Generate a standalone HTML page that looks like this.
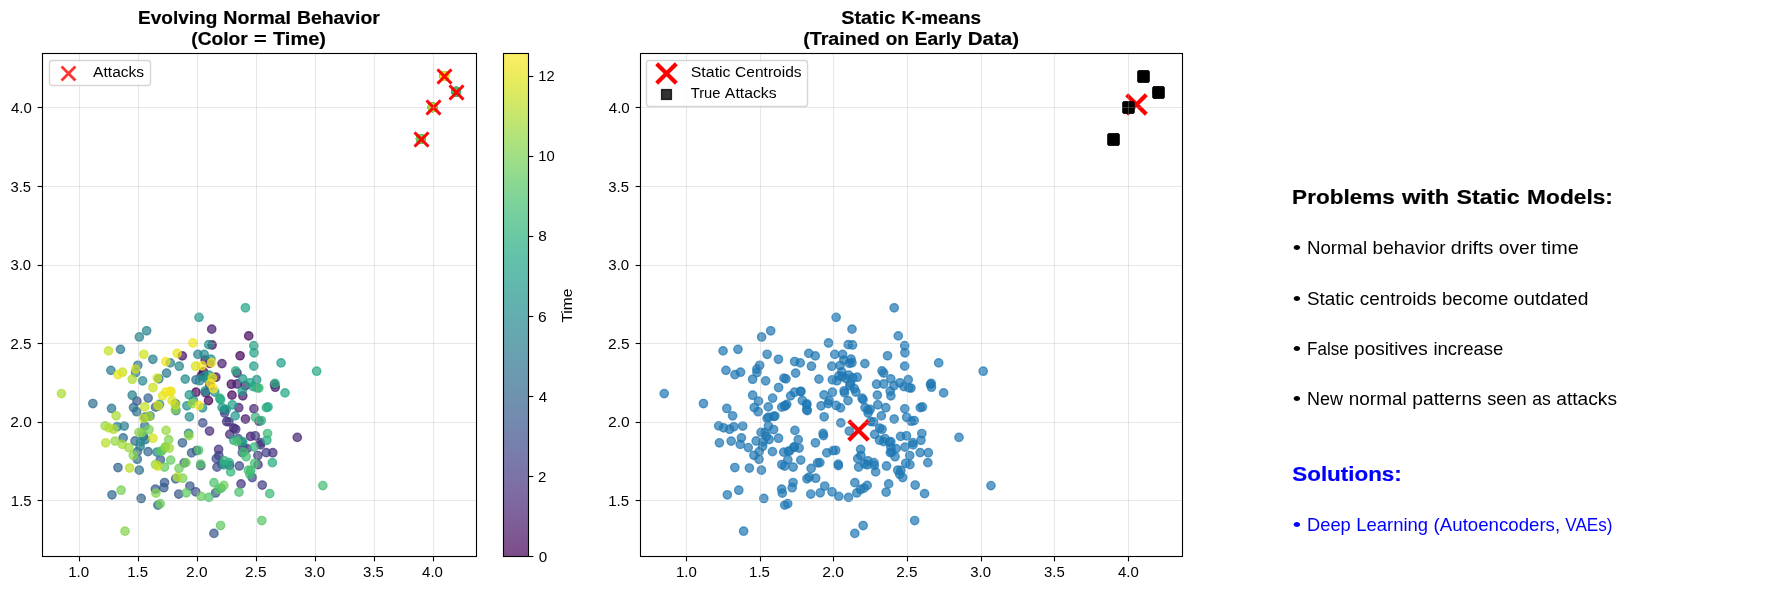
<!DOCTYPE html>
<html><head><meta charset="utf-8"><title>Evolving Normal Behavior vs Static K-means</title>
<style>html,body{margin:0;padding:0;background:#fff;width:1790px;height:590px;overflow:hidden}svg{display:block;font-family:"Liberation Sans",sans-serif;will-change:transform}</style>
</head><body>
<svg width="1790" height="590" viewBox="0 0 1790 590" font-family="Liberation Sans, sans-serif">
<rect x="0" y="0" width="1790" height="590" fill="#ffffff"/>
<circle cx="208.5" cy="400.61" r="4.17" fill="#440154" fill-opacity="0.7" stroke="#440154" stroke-opacity="0.7" stroke-width="1.39"/><circle cx="196.01" cy="392.2" r="4.17" fill="#440154" fill-opacity="0.7" stroke="#440154" stroke-opacity="0.7" stroke-width="1.39"/><circle cx="420.74" cy="138.86" r="4.17" fill="#440256" fill-opacity="0.7" stroke="#440256" stroke-opacity="0.7" stroke-width="1.39"/><circle cx="240.1" cy="355.75" r="4.17" fill="#450457" fill-opacity="0.7" stroke="#450457" stroke-opacity="0.7" stroke-width="1.39"/><circle cx="201.13" cy="375.88" r="4.17" fill="#450559" fill-opacity="0.7" stroke="#450559" stroke-opacity="0.7" stroke-width="1.39"/><circle cx="203.56" cy="371.9" r="4.17" fill="#46075a" fill-opacity="0.7" stroke="#46075a" stroke-opacity="0.7" stroke-width="1.39"/><circle cx="248.72" cy="335.89" r="4.17" fill="#46085c" fill-opacity="0.7" stroke="#46085c" stroke-opacity="0.7" stroke-width="1.39"/><circle cx="231.97" cy="395.17" r="4.17" fill="#46085c" fill-opacity="0.7" stroke="#46085c" stroke-opacity="0.7" stroke-width="1.39"/><circle cx="205.17" cy="360" r="4.17" fill="#460a5d" fill-opacity="0.7" stroke="#460a5d" stroke-opacity="0.7" stroke-width="1.39"/><circle cx="231.34" cy="384.24" r="4.17" fill="#460b5e" fill-opacity="0.7" stroke="#460b5e" stroke-opacity="0.7" stroke-width="1.39"/><circle cx="209.91" cy="385.5" r="4.17" fill="#470d60" fill-opacity="0.7" stroke="#470d60" stroke-opacity="0.7" stroke-width="1.39"/><circle cx="212.1" cy="344.97" r="4.17" fill="#470e61" fill-opacity="0.7" stroke="#470e61" stroke-opacity="0.7" stroke-width="1.39"/><circle cx="432.53" cy="107.43" r="4.17" fill="#471063" fill-opacity="0.7" stroke="#471063" stroke-opacity="0.7" stroke-width="1.39"/><circle cx="182.31" cy="355.85" r="4.17" fill="#471164" fill-opacity="0.7" stroke="#471164" stroke-opacity="0.7" stroke-width="1.39"/><circle cx="456.1" cy="91.72" r="4.17" fill="#471164" fill-opacity="0.7" stroke="#471164" stroke-opacity="0.7" stroke-width="1.39"/><circle cx="444.31" cy="76" r="4.17" fill="#471365" fill-opacity="0.7" stroke="#471365" stroke-opacity="0.7" stroke-width="1.39"/><circle cx="209.62" cy="363.38" r="4.17" fill="#481467" fill-opacity="0.7" stroke="#481467" stroke-opacity="0.7" stroke-width="1.39"/><circle cx="242.81" cy="395.83" r="4.17" fill="#481668" fill-opacity="0.7" stroke="#481668" stroke-opacity="0.7" stroke-width="1.39"/><circle cx="215.84" cy="377.22" r="4.17" fill="#481769" fill-opacity="0.7" stroke="#481769" stroke-opacity="0.7" stroke-width="1.39"/><circle cx="205.71" cy="392.89" r="4.17" fill="#48186a" fill-opacity="0.7" stroke="#48186a" stroke-opacity="0.7" stroke-width="1.39"/><circle cx="275.25" cy="387.2" r="4.17" fill="#481a6c" fill-opacity="0.7" stroke="#481a6c" stroke-opacity="0.7" stroke-width="1.39"/><circle cx="236.99" cy="373.05" r="4.17" fill="#481a6c" fill-opacity="0.7" stroke="#481a6c" stroke-opacity="0.7" stroke-width="1.39"/><circle cx="245.43" cy="419.02" r="4.17" fill="#481b6d" fill-opacity="0.7" stroke="#481b6d" stroke-opacity="0.7" stroke-width="1.39"/><circle cx="211.71" cy="329.16" r="4.17" fill="#481c6e" fill-opacity="0.7" stroke="#481c6e" stroke-opacity="0.7" stroke-width="1.39"/><circle cx="233.82" cy="428.18" r="4.17" fill="#481d6f" fill-opacity="0.7" stroke="#481d6f" stroke-opacity="0.7" stroke-width="1.39"/><circle cx="250.55" cy="436.42" r="4.17" fill="#481f70" fill-opacity="0.7" stroke="#481f70" stroke-opacity="0.7" stroke-width="1.39"/><circle cx="221.98" cy="363.61" r="4.17" fill="#482071" fill-opacity="0.7" stroke="#482071" stroke-opacity="0.7" stroke-width="1.39"/><circle cx="420.74" cy="138.86" r="4.17" fill="#482173" fill-opacity="0.7" stroke="#482173" stroke-opacity="0.7" stroke-width="1.39"/><circle cx="237.05" cy="383.98" r="4.17" fill="#482173" fill-opacity="0.7" stroke="#482173" stroke-opacity="0.7" stroke-width="1.39"/><circle cx="245.23" cy="385.69" r="4.17" fill="#482374" fill-opacity="0.7" stroke="#482374" stroke-opacity="0.7" stroke-width="1.39"/><circle cx="238.73" cy="407.7" r="4.17" fill="#482475" fill-opacity="0.7" stroke="#482475" stroke-opacity="0.7" stroke-width="1.39"/><circle cx="297.29" cy="437.41" r="4.17" fill="#482576" fill-opacity="0.7" stroke="#482576" stroke-opacity="0.7" stroke-width="1.39"/><circle cx="253.91" cy="408.75" r="4.17" fill="#482677" fill-opacity="0.7" stroke="#482677" stroke-opacity="0.7" stroke-width="1.39"/><circle cx="229.8" cy="434.36" r="4.17" fill="#482878" fill-opacity="0.7" stroke="#482878" stroke-opacity="0.7" stroke-width="1.39"/><circle cx="274.52" cy="384.38" r="4.17" fill="#482979" fill-opacity="0.7" stroke="#482979" stroke-opacity="0.7" stroke-width="1.39"/><circle cx="226.65" cy="421.62" r="4.17" fill="#482979" fill-opacity="0.7" stroke="#482979" stroke-opacity="0.7" stroke-width="1.39"/><circle cx="260.55" cy="444.91" r="4.17" fill="#472a7a" fill-opacity="0.7" stroke="#472a7a" stroke-opacity="0.7" stroke-width="1.39"/><circle cx="209.52" cy="431.05" r="4.17" fill="#472c7a" fill-opacity="0.7" stroke="#472c7a" stroke-opacity="0.7" stroke-width="1.39"/><circle cx="224.39" cy="409.95" r="4.17" fill="#472d7b" fill-opacity="0.7" stroke="#472d7b" stroke-opacity="0.7" stroke-width="1.39"/><circle cx="260.23" cy="442.63" r="4.17" fill="#472e7c" fill-opacity="0.7" stroke="#472e7c" stroke-opacity="0.7" stroke-width="1.39"/><circle cx="272.77" cy="452.72" r="4.17" fill="#472f7d" fill-opacity="0.7" stroke="#472f7d" stroke-opacity="0.7" stroke-width="1.39"/><circle cx="259.08" cy="421.19" r="4.17" fill="#46307e" fill-opacity="0.7" stroke="#46307e" stroke-opacity="0.7" stroke-width="1.39"/><circle cx="432.53" cy="107.43" r="4.17" fill="#46307e" fill-opacity="0.7" stroke="#46307e" stroke-opacity="0.7" stroke-width="1.39"/><circle cx="246.99" cy="448.67" r="4.17" fill="#46327e" fill-opacity="0.7" stroke="#46327e" stroke-opacity="0.7" stroke-width="1.39"/><circle cx="218.6" cy="449.45" r="4.17" fill="#46337f" fill-opacity="0.7" stroke="#46337f" stroke-opacity="0.7" stroke-width="1.39"/><circle cx="235.75" cy="429.25" r="4.17" fill="#463480" fill-opacity="0.7" stroke="#463480" stroke-opacity="0.7" stroke-width="1.39"/><circle cx="241.04" cy="483.92" r="4.17" fill="#453581" fill-opacity="0.7" stroke="#453581" stroke-opacity="0.7" stroke-width="1.39"/><circle cx="456.1" cy="91.72" r="4.17" fill="#453781" fill-opacity="0.7" stroke="#453781" stroke-opacity="0.7" stroke-width="1.39"/><circle cx="258.05" cy="464.63" r="4.17" fill="#453882" fill-opacity="0.7" stroke="#453882" stroke-opacity="0.7" stroke-width="1.39"/><circle cx="444.31" cy="76" r="4.17" fill="#453882" fill-opacity="0.7" stroke="#453882" stroke-opacity="0.7" stroke-width="1.39"/><circle cx="255.26" cy="435.78" r="4.17" fill="#443983" fill-opacity="0.7" stroke="#443983" stroke-opacity="0.7" stroke-width="1.39"/><circle cx="420.74" cy="138.86" r="4.17" fill="#443a83" fill-opacity="0.7" stroke="#443a83" stroke-opacity="0.7" stroke-width="1.39"/><circle cx="228.98" cy="421.92" r="4.17" fill="#443b84" fill-opacity="0.7" stroke="#443b84" stroke-opacity="0.7" stroke-width="1.39"/><circle cx="257.89" cy="455.5" r="4.17" fill="#433d84" fill-opacity="0.7" stroke="#433d84" stroke-opacity="0.7" stroke-width="1.39"/><circle cx="266.22" cy="452.61" r="4.17" fill="#433e85" fill-opacity="0.7" stroke="#433e85" stroke-opacity="0.7" stroke-width="1.39"/><circle cx="262.24" cy="485.01" r="4.17" fill="#423f85" fill-opacity="0.7" stroke="#423f85" stroke-opacity="0.7" stroke-width="1.39"/><circle cx="218.79" cy="455.52" r="4.17" fill="#423f85" fill-opacity="0.7" stroke="#423f85" stroke-opacity="0.7" stroke-width="1.39"/><circle cx="229.5" cy="465.38" r="4.17" fill="#424086" fill-opacity="0.7" stroke="#424086" stroke-opacity="0.7" stroke-width="1.39"/><circle cx="242.74" cy="447.48" r="4.17" fill="#424186" fill-opacity="0.7" stroke="#424186" stroke-opacity="0.7" stroke-width="1.39"/><circle cx="432.53" cy="107.43" r="4.17" fill="#414287" fill-opacity="0.7" stroke="#414287" stroke-opacity="0.7" stroke-width="1.39"/><circle cx="456.1" cy="91.72" r="4.17" fill="#414487" fill-opacity="0.7" stroke="#414487" stroke-opacity="0.7" stroke-width="1.39"/><circle cx="224.61" cy="413.01" r="4.17" fill="#404588" fill-opacity="0.7" stroke="#404588" stroke-opacity="0.7" stroke-width="1.39"/><circle cx="200.8" cy="465.64" r="4.17" fill="#404688" fill-opacity="0.7" stroke="#404688" stroke-opacity="0.7" stroke-width="1.39"/><circle cx="196.53" cy="450.58" r="4.17" fill="#404688" fill-opacity="0.7" stroke="#404688" stroke-opacity="0.7" stroke-width="1.39"/><circle cx="241.67" cy="442.41" r="4.17" fill="#3f4788" fill-opacity="0.7" stroke="#3f4788" stroke-opacity="0.7" stroke-width="1.39"/><circle cx="252.24" cy="477.54" r="4.17" fill="#3f4889" fill-opacity="0.7" stroke="#3f4889" stroke-opacity="0.7" stroke-width="1.39"/><circle cx="216.28" cy="458.64" r="4.17" fill="#3e4989" fill-opacity="0.7" stroke="#3e4989" stroke-opacity="0.7" stroke-width="1.39"/><circle cx="239.31" cy="465.96" r="4.17" fill="#3e4a89" fill-opacity="0.7" stroke="#3e4a89" stroke-opacity="0.7" stroke-width="1.39"/><circle cx="221.81" cy="463.88" r="4.17" fill="#3e4c8a" fill-opacity="0.7" stroke="#3e4c8a" stroke-opacity="0.7" stroke-width="1.39"/><circle cx="195.69" cy="491.76" r="4.17" fill="#3d4d8a" fill-opacity="0.7" stroke="#3d4d8a" stroke-opacity="0.7" stroke-width="1.39"/><circle cx="217" cy="467.13" r="4.17" fill="#3d4d8a" fill-opacity="0.7" stroke="#3d4d8a" stroke-opacity="0.7" stroke-width="1.39"/><circle cx="242.3" cy="452.6" r="4.17" fill="#3d4e8a" fill-opacity="0.7" stroke="#3d4e8a" stroke-opacity="0.7" stroke-width="1.39"/><circle cx="202.74" cy="422.91" r="4.17" fill="#3c4f8a" fill-opacity="0.7" stroke="#3c4f8a" stroke-opacity="0.7" stroke-width="1.39"/><circle cx="238.01" cy="438.56" r="4.17" fill="#3c508b" fill-opacity="0.7" stroke="#3c508b" stroke-opacity="0.7" stroke-width="1.39"/><circle cx="136.89" cy="401.14" r="4.17" fill="#3b518b" fill-opacity="0.7" stroke="#3b518b" stroke-opacity="0.7" stroke-width="1.39"/><circle cx="215.55" cy="492.95" r="4.17" fill="#3b528b" fill-opacity="0.7" stroke="#3b528b" stroke-opacity="0.7" stroke-width="1.39"/><circle cx="444.31" cy="76" r="4.17" fill="#3a538b" fill-opacity="0.7" stroke="#3a538b" stroke-opacity="0.7" stroke-width="1.39"/><circle cx="184.18" cy="462.86" r="4.17" fill="#3a538b" fill-opacity="0.7" stroke="#3a538b" stroke-opacity="0.7" stroke-width="1.39"/><circle cx="420.74" cy="138.86" r="4.17" fill="#3a548c" fill-opacity="0.7" stroke="#3a548c" stroke-opacity="0.7" stroke-width="1.39"/><circle cx="432.53" cy="107.43" r="4.17" fill="#39558c" fill-opacity="0.7" stroke="#39558c" stroke-opacity="0.7" stroke-width="1.39"/><circle cx="178.71" cy="494.08" r="4.17" fill="#39568c" fill-opacity="0.7" stroke="#39568c" stroke-opacity="0.7" stroke-width="1.39"/><circle cx="189.91" cy="486.05" r="4.17" fill="#38588c" fill-opacity="0.7" stroke="#38588c" stroke-opacity="0.7" stroke-width="1.39"/><circle cx="213.95" cy="533.41" r="4.17" fill="#38598c" fill-opacity="0.7" stroke="#38598c" stroke-opacity="0.7" stroke-width="1.39"/><circle cx="164.55" cy="482.55" r="4.17" fill="#375a8c" fill-opacity="0.7" stroke="#375a8c" stroke-opacity="0.7" stroke-width="1.39"/><circle cx="155.39" cy="489.17" r="4.17" fill="#375a8c" fill-opacity="0.7" stroke="#375a8c" stroke-opacity="0.7" stroke-width="1.39"/><circle cx="160.35" cy="459.8" r="4.17" fill="#375b8d" fill-opacity="0.7" stroke="#375b8d" stroke-opacity="0.7" stroke-width="1.39"/><circle cx="191.53" cy="452.92" r="4.17" fill="#365c8d" fill-opacity="0.7" stroke="#365c8d" stroke-opacity="0.7" stroke-width="1.39"/><circle cx="175.52" cy="403.76" r="4.17" fill="#365d8d" fill-opacity="0.7" stroke="#365d8d" stroke-opacity="0.7" stroke-width="1.39"/><circle cx="456.1" cy="91.72" r="4.17" fill="#355e8d" fill-opacity="0.7" stroke="#355e8d" stroke-opacity="0.7" stroke-width="1.39"/><circle cx="175.67" cy="478.76" r="4.17" fill="#355f8d" fill-opacity="0.7" stroke="#355f8d" stroke-opacity="0.7" stroke-width="1.39"/><circle cx="163.84" cy="487.71" r="4.17" fill="#34608d" fill-opacity="0.7" stroke="#34608d" stroke-opacity="0.7" stroke-width="1.39"/><circle cx="182.43" cy="442.8" r="4.17" fill="#34608d" fill-opacity="0.7" stroke="#34608d" stroke-opacity="0.7" stroke-width="1.39"/><circle cx="141.16" cy="498.47" r="4.17" fill="#34618d" fill-opacity="0.7" stroke="#34618d" stroke-opacity="0.7" stroke-width="1.39"/><circle cx="148.17" cy="398.08" r="4.17" fill="#33628d" fill-opacity="0.7" stroke="#33628d" stroke-opacity="0.7" stroke-width="1.39"/><circle cx="144.9" cy="417.16" r="4.17" fill="#33638d" fill-opacity="0.7" stroke="#33638d" stroke-opacity="0.7" stroke-width="1.39"/><circle cx="117.97" cy="467.51" r="4.17" fill="#32648e" fill-opacity="0.7" stroke="#32648e" stroke-opacity="0.7" stroke-width="1.39"/><circle cx="157.86" cy="505.09" r="4.17" fill="#32658e" fill-opacity="0.7" stroke="#32658e" stroke-opacity="0.7" stroke-width="1.39"/><circle cx="155.52" cy="407.13" r="4.17" fill="#31668e" fill-opacity="0.7" stroke="#31668e" stroke-opacity="0.7" stroke-width="1.39"/><circle cx="148.06" cy="451.66" r="4.17" fill="#31668e" fill-opacity="0.7" stroke="#31668e" stroke-opacity="0.7" stroke-width="1.39"/><circle cx="444.31" cy="76" r="4.17" fill="#31678e" fill-opacity="0.7" stroke="#31678e" stroke-opacity="0.7" stroke-width="1.39"/><circle cx="111.98" cy="494.8" r="4.17" fill="#31688e" fill-opacity="0.7" stroke="#31688e" stroke-opacity="0.7" stroke-width="1.39"/><circle cx="420.74" cy="138.86" r="4.17" fill="#30698e" fill-opacity="0.7" stroke="#30698e" stroke-opacity="0.7" stroke-width="1.39"/><circle cx="135.03" cy="440.99" r="4.17" fill="#306a8e" fill-opacity="0.7" stroke="#306a8e" stroke-opacity="0.7" stroke-width="1.39"/><circle cx="123.22" cy="437.86" r="4.17" fill="#2f6b8e" fill-opacity="0.7" stroke="#2f6b8e" stroke-opacity="0.7" stroke-width="1.39"/><circle cx="137.46" cy="451.62" r="4.17" fill="#2f6c8e" fill-opacity="0.7" stroke="#2f6c8e" stroke-opacity="0.7" stroke-width="1.39"/><circle cx="150" cy="416.03" r="4.17" fill="#2f6c8e" fill-opacity="0.7" stroke="#2f6c8e" stroke-opacity="0.7" stroke-width="1.39"/><circle cx="432.53" cy="107.43" r="4.17" fill="#2e6d8e" fill-opacity="0.7" stroke="#2e6d8e" stroke-opacity="0.7" stroke-width="1.39"/><circle cx="143.33" cy="436.24" r="4.17" fill="#2e6e8e" fill-opacity="0.7" stroke="#2e6e8e" stroke-opacity="0.7" stroke-width="1.39"/><circle cx="144.81" cy="426.04" r="4.17" fill="#2e6f8e" fill-opacity="0.7" stroke="#2e6f8e" stroke-opacity="0.7" stroke-width="1.39"/><circle cx="136.61" cy="411.7" r="4.17" fill="#2d708e" fill-opacity="0.7" stroke="#2d708e" stroke-opacity="0.7" stroke-width="1.39"/><circle cx="92.86" cy="403.53" r="4.17" fill="#2d718e" fill-opacity="0.7" stroke="#2d718e" stroke-opacity="0.7" stroke-width="1.39"/><circle cx="137.3" cy="459.26" r="4.17" fill="#2c718e" fill-opacity="0.7" stroke="#2c718e" stroke-opacity="0.7" stroke-width="1.39"/><circle cx="139.28" cy="470.15" r="4.17" fill="#2c718e" fill-opacity="0.7" stroke="#2c718e" stroke-opacity="0.7" stroke-width="1.39"/><circle cx="195.96" cy="379.81" r="4.17" fill="#2c728e" fill-opacity="0.7" stroke="#2c728e" stroke-opacity="0.7" stroke-width="1.39"/><circle cx="133.5" cy="407.54" r="4.17" fill="#2c738e" fill-opacity="0.7" stroke="#2c738e" stroke-opacity="0.7" stroke-width="1.39"/><circle cx="145.39" cy="439.53" r="4.17" fill="#2b748e" fill-opacity="0.7" stroke="#2b748e" stroke-opacity="0.7" stroke-width="1.39"/><circle cx="137.82" cy="365.3" r="4.17" fill="#2b758e" fill-opacity="0.7" stroke="#2b758e" stroke-opacity="0.7" stroke-width="1.39"/><circle cx="111.54" cy="408.47" r="4.17" fill="#2a768e" fill-opacity="0.7" stroke="#2a768e" stroke-opacity="0.7" stroke-width="1.39"/><circle cx="166.58" cy="373.11" r="4.17" fill="#2a778e" fill-opacity="0.7" stroke="#2a778e" stroke-opacity="0.7" stroke-width="1.39"/><circle cx="158.02" cy="406.14" r="4.17" fill="#2a778e" fill-opacity="0.7" stroke="#2a778e" stroke-opacity="0.7" stroke-width="1.39"/><circle cx="456.1" cy="91.72" r="4.17" fill="#2a788e" fill-opacity="0.7" stroke="#2a788e" stroke-opacity="0.7" stroke-width="1.39"/><circle cx="120.47" cy="349.35" r="4.17" fill="#29798e" fill-opacity="0.7" stroke="#29798e" stroke-opacity="0.7" stroke-width="1.39"/><circle cx="175.93" cy="410.51" r="4.17" fill="#297a8e" fill-opacity="0.7" stroke="#297a8e" stroke-opacity="0.7" stroke-width="1.39"/><circle cx="110.86" cy="370.36" r="4.17" fill="#297b8e" fill-opacity="0.7" stroke="#297b8e" stroke-opacity="0.7" stroke-width="1.39"/><circle cx="158.88" cy="378.85" r="4.17" fill="#287c8e" fill-opacity="0.7" stroke="#287c8e" stroke-opacity="0.7" stroke-width="1.39"/><circle cx="197.91" cy="354.4" r="4.17" fill="#287d8e" fill-opacity="0.7" stroke="#287d8e" stroke-opacity="0.7" stroke-width="1.39"/><circle cx="124.24" cy="426.06" r="4.17" fill="#287d8e" fill-opacity="0.7" stroke="#287d8e" stroke-opacity="0.7" stroke-width="1.39"/><circle cx="135.65" cy="372.55" r="4.17" fill="#277e8e" fill-opacity="0.7" stroke="#277e8e" stroke-opacity="0.7" stroke-width="1.39"/><circle cx="152.84" cy="359.26" r="4.17" fill="#277f8e" fill-opacity="0.7" stroke="#277f8e" stroke-opacity="0.7" stroke-width="1.39"/><circle cx="140.2" cy="446.26" r="4.17" fill="#27808e" fill-opacity="0.7" stroke="#27808e" stroke-opacity="0.7" stroke-width="1.39"/><circle cx="117.16" cy="426.7" r="4.17" fill="#26818e" fill-opacity="0.7" stroke="#26818e" stroke-opacity="0.7" stroke-width="1.39"/><circle cx="157.06" cy="452.18" r="4.17" fill="#26828e" fill-opacity="0.7" stroke="#26828e" stroke-opacity="0.7" stroke-width="1.39"/><circle cx="132.21" cy="395.21" r="4.17" fill="#26828e" fill-opacity="0.7" stroke="#26828e" stroke-opacity="0.7" stroke-width="1.39"/><circle cx="170.28" cy="362.89" r="4.17" fill="#26828e" fill-opacity="0.7" stroke="#26828e" stroke-opacity="0.7" stroke-width="1.39"/><circle cx="139.38" cy="336.99" r="4.17" fill="#25838e" fill-opacity="0.7" stroke="#25838e" stroke-opacity="0.7" stroke-width="1.39"/><circle cx="199.6" cy="380.71" r="4.17" fill="#25848e" fill-opacity="0.7" stroke="#25848e" stroke-opacity="0.7" stroke-width="1.39"/><circle cx="146.65" cy="330.76" r="4.17" fill="#25858e" fill-opacity="0.7" stroke="#25858e" stroke-opacity="0.7" stroke-width="1.39"/><circle cx="444.31" cy="76" r="4.17" fill="#24868e" fill-opacity="0.7" stroke="#24868e" stroke-opacity="0.7" stroke-width="1.39"/><circle cx="188.58" cy="433.48" r="4.17" fill="#24878e" fill-opacity="0.7" stroke="#24878e" stroke-opacity="0.7" stroke-width="1.39"/><circle cx="142.6" cy="380.82" r="4.17" fill="#23888e" fill-opacity="0.7" stroke="#23888e" stroke-opacity="0.7" stroke-width="1.39"/><circle cx="179.24" cy="366.19" r="4.17" fill="#23888e" fill-opacity="0.7" stroke="#23888e" stroke-opacity="0.7" stroke-width="1.39"/><circle cx="207" cy="378.56" r="4.17" fill="#23898e" fill-opacity="0.7" stroke="#23898e" stroke-opacity="0.7" stroke-width="1.39"/><circle cx="140.63" cy="441.85" r="4.17" fill="#238a8d" fill-opacity="0.7" stroke="#238a8d" stroke-opacity="0.7" stroke-width="1.39"/><circle cx="185.24" cy="379.1" r="4.17" fill="#228b8d" fill-opacity="0.7" stroke="#228b8d" stroke-opacity="0.7" stroke-width="1.39"/><circle cx="189.41" cy="416.8" r="4.17" fill="#228c8d" fill-opacity="0.7" stroke="#228c8d" stroke-opacity="0.7" stroke-width="1.39"/><circle cx="204.14" cy="354.35" r="4.17" fill="#228d8d" fill-opacity="0.7" stroke="#228d8d" stroke-opacity="0.7" stroke-width="1.39"/><circle cx="420.74" cy="138.86" r="4.17" fill="#218e8d" fill-opacity="0.7" stroke="#218e8d" stroke-opacity="0.7" stroke-width="1.39"/><circle cx="159.48" cy="404.35" r="4.17" fill="#218e8d" fill-opacity="0.7" stroke="#218e8d" stroke-opacity="0.7" stroke-width="1.39"/><circle cx="205.38" cy="390.8" r="4.17" fill="#218f8d" fill-opacity="0.7" stroke="#218f8d" stroke-opacity="0.7" stroke-width="1.39"/><circle cx="202.55" cy="407.85" r="4.17" fill="#21908d" fill-opacity="0.7" stroke="#21908d" stroke-opacity="0.7" stroke-width="1.39"/><circle cx="203.93" cy="376.53" r="4.17" fill="#21918c" fill-opacity="0.7" stroke="#21918c" stroke-opacity="0.7" stroke-width="1.39"/><circle cx="208.67" cy="344.63" r="4.17" fill="#20928c" fill-opacity="0.7" stroke="#20928c" stroke-opacity="0.7" stroke-width="1.39"/><circle cx="186.94" cy="405.79" r="4.17" fill="#20928c" fill-opacity="0.7" stroke="#20928c" stroke-opacity="0.7" stroke-width="1.39"/><circle cx="210.9" cy="359.22" r="4.17" fill="#20928c" fill-opacity="0.7" stroke="#20928c" stroke-opacity="0.7" stroke-width="1.39"/><circle cx="214.78" cy="392.06" r="4.17" fill="#20938c" fill-opacity="0.7" stroke="#20938c" stroke-opacity="0.7" stroke-width="1.39"/><circle cx="193.45" cy="400.72" r="4.17" fill="#1f948c" fill-opacity="0.7" stroke="#1f948c" stroke-opacity="0.7" stroke-width="1.39"/><circle cx="256.67" cy="379.67" r="4.17" fill="#1f958b" fill-opacity="0.7" stroke="#1f958b" stroke-opacity="0.7" stroke-width="1.39"/><circle cx="226.23" cy="409.41" r="4.17" fill="#1f968b" fill-opacity="0.7" stroke="#1f968b" stroke-opacity="0.7" stroke-width="1.39"/><circle cx="189.32" cy="394.93" r="4.17" fill="#1f978b" fill-opacity="0.7" stroke="#1f978b" stroke-opacity="0.7" stroke-width="1.39"/><circle cx="235.18" cy="415.91" r="4.17" fill="#1f988b" fill-opacity="0.7" stroke="#1f988b" stroke-opacity="0.7" stroke-width="1.39"/><circle cx="198.98" cy="317.33" r="4.17" fill="#1f988b" fill-opacity="0.7" stroke="#1f988b" stroke-opacity="0.7" stroke-width="1.39"/><circle cx="242.73" cy="378.85" r="4.17" fill="#1f998a" fill-opacity="0.7" stroke="#1f998a" stroke-opacity="0.7" stroke-width="1.39"/><circle cx="432.53" cy="107.43" r="4.17" fill="#1f9a8a" fill-opacity="0.7" stroke="#1f9a8a" stroke-opacity="0.7" stroke-width="1.39"/><circle cx="209.12" cy="375.22" r="4.17" fill="#1e9b8a" fill-opacity="0.7" stroke="#1e9b8a" stroke-opacity="0.7" stroke-width="1.39"/><circle cx="253.23" cy="386.57" r="4.17" fill="#1e9c89" fill-opacity="0.7" stroke="#1e9c89" stroke-opacity="0.7" stroke-width="1.39"/><circle cx="242.25" cy="391.15" r="4.17" fill="#1e9d89" fill-opacity="0.7" stroke="#1e9d89" stroke-opacity="0.7" stroke-width="1.39"/><circle cx="253.84" cy="366.14" r="4.17" fill="#1f9e89" fill-opacity="0.7" stroke="#1f9e89" stroke-opacity="0.7" stroke-width="1.39"/><circle cx="281.05" cy="362.93" r="4.17" fill="#1f9e89" fill-opacity="0.7" stroke="#1f9e89" stroke-opacity="0.7" stroke-width="1.39"/><circle cx="232.35" cy="404.77" r="4.17" fill="#1f9f88" fill-opacity="0.7" stroke="#1f9f88" stroke-opacity="0.7" stroke-width="1.39"/><circle cx="222.09" cy="407.61" r="4.17" fill="#1fa088" fill-opacity="0.7" stroke="#1fa088" stroke-opacity="0.7" stroke-width="1.39"/><circle cx="220.54" cy="399.64" r="4.17" fill="#1fa188" fill-opacity="0.7" stroke="#1fa188" stroke-opacity="0.7" stroke-width="1.39"/><circle cx="223.85" cy="464.86" r="4.17" fill="#1fa187" fill-opacity="0.7" stroke="#1fa187" stroke-opacity="0.7" stroke-width="1.39"/><circle cx="242.76" cy="441.72" r="4.17" fill="#1fa287" fill-opacity="0.7" stroke="#1fa287" stroke-opacity="0.7" stroke-width="1.39"/><circle cx="254.03" cy="352.78" r="4.17" fill="#20a386" fill-opacity="0.7" stroke="#20a386" stroke-opacity="0.7" stroke-width="1.39"/><circle cx="253.83" cy="345.72" r="4.17" fill="#20a386" fill-opacity="0.7" stroke="#20a386" stroke-opacity="0.7" stroke-width="1.39"/><circle cx="268.04" cy="406.96" r="4.17" fill="#20a486" fill-opacity="0.7" stroke="#20a486" stroke-opacity="0.7" stroke-width="1.39"/><circle cx="249.98" cy="382.77" r="4.17" fill="#21a585" fill-opacity="0.7" stroke="#21a585" stroke-opacity="0.7" stroke-width="1.39"/><circle cx="284.99" cy="392.9" r="4.17" fill="#21a685" fill-opacity="0.7" stroke="#21a685" stroke-opacity="0.7" stroke-width="1.39"/><circle cx="245.43" cy="307.76" r="4.17" fill="#22a785" fill-opacity="0.7" stroke="#22a785" stroke-opacity="0.7" stroke-width="1.39"/><circle cx="316.65" cy="371.19" r="4.17" fill="#22a884" fill-opacity="0.7" stroke="#22a884" stroke-opacity="0.7" stroke-width="1.39"/><circle cx="456.1" cy="91.72" r="4.17" fill="#23a983" fill-opacity="0.7" stroke="#23a983" stroke-opacity="0.7" stroke-width="1.39"/><circle cx="233.73" cy="440.2" r="4.17" fill="#23a983" fill-opacity="0.7" stroke="#23a983" stroke-opacity="0.7" stroke-width="1.39"/><circle cx="229.25" cy="462.59" r="4.17" fill="#24aa83" fill-opacity="0.7" stroke="#24aa83" stroke-opacity="0.7" stroke-width="1.39"/><circle cx="266.32" cy="407.66" r="4.17" fill="#25ab82" fill-opacity="0.7" stroke="#25ab82" stroke-opacity="0.7" stroke-width="1.39"/><circle cx="444.31" cy="76" r="4.17" fill="#25ac82" fill-opacity="0.7" stroke="#25ac82" stroke-opacity="0.7" stroke-width="1.39"/><circle cx="272.37" cy="462.68" r="4.17" fill="#26ad81" fill-opacity="0.7" stroke="#26ad81" stroke-opacity="0.7" stroke-width="1.39"/><circle cx="266.84" cy="440.28" r="4.17" fill="#27ad81" fill-opacity="0.7" stroke="#27ad81" stroke-opacity="0.7" stroke-width="1.39"/><circle cx="420.74" cy="138.86" r="4.17" fill="#28ae80" fill-opacity="0.7" stroke="#28ae80" stroke-opacity="0.7" stroke-width="1.39"/><circle cx="235.7" cy="370.9" r="4.17" fill="#28ae80" fill-opacity="0.7" stroke="#28ae80" stroke-opacity="0.7" stroke-width="1.39"/><circle cx="219.78" cy="398.19" r="4.17" fill="#29af7f" fill-opacity="0.7" stroke="#29af7f" stroke-opacity="0.7" stroke-width="1.39"/><circle cx="432.53" cy="107.43" r="4.17" fill="#2ab07f" fill-opacity="0.7" stroke="#2ab07f" stroke-opacity="0.7" stroke-width="1.39"/><circle cx="275.03" cy="383.32" r="4.17" fill="#2cb17e" fill-opacity="0.7" stroke="#2cb17e" stroke-opacity="0.7" stroke-width="1.39"/><circle cx="456.1" cy="91.72" r="4.17" fill="#2db27d" fill-opacity="0.7" stroke="#2db27d" stroke-opacity="0.7" stroke-width="1.39"/><circle cx="224.42" cy="460.76" r="4.17" fill="#2eb37c" fill-opacity="0.7" stroke="#2eb37c" stroke-opacity="0.7" stroke-width="1.39"/><circle cx="257.18" cy="387.73" r="4.17" fill="#2fb47c" fill-opacity="0.7" stroke="#2fb47c" stroke-opacity="0.7" stroke-width="1.39"/><circle cx="261.4" cy="420.54" r="4.17" fill="#2fb47c" fill-opacity="0.7" stroke="#2fb47c" stroke-opacity="0.7" stroke-width="1.39"/><circle cx="230.61" cy="471.93" r="4.17" fill="#31b57b" fill-opacity="0.7" stroke="#31b57b" stroke-opacity="0.7" stroke-width="1.39"/><circle cx="254.09" cy="447.13" r="4.17" fill="#32b67a" fill-opacity="0.7" stroke="#32b67a" stroke-opacity="0.7" stroke-width="1.39"/><circle cx="250.77" cy="470.46" r="4.17" fill="#34b679" fill-opacity="0.7" stroke="#34b679" stroke-opacity="0.7" stroke-width="1.39"/><circle cx="221.29" cy="488.15" r="4.17" fill="#35b779" fill-opacity="0.7" stroke="#35b779" stroke-opacity="0.7" stroke-width="1.39"/><circle cx="255.42" cy="417.29" r="4.17" fill="#37b878" fill-opacity="0.7" stroke="#37b878" stroke-opacity="0.7" stroke-width="1.39"/><circle cx="258.86" cy="388.06" r="4.17" fill="#38b977" fill-opacity="0.7" stroke="#38b977" stroke-opacity="0.7" stroke-width="1.39"/><circle cx="269.74" cy="493.63" r="4.17" fill="#38b977" fill-opacity="0.7" stroke="#38b977" stroke-opacity="0.7" stroke-width="1.39"/><circle cx="267.54" cy="433.56" r="4.17" fill="#3aba76" fill-opacity="0.7" stroke="#3aba76" stroke-opacity="0.7" stroke-width="1.39"/><circle cx="456.1" cy="91.72" r="4.17" fill="#3bbb75" fill-opacity="0.7" stroke="#3bbb75" stroke-opacity="0.7" stroke-width="1.39"/><circle cx="456.1" cy="91.72" r="4.17" fill="#3dbc74" fill-opacity="0.7" stroke="#3dbc74" stroke-opacity="0.7" stroke-width="1.39"/><circle cx="249.83" cy="474.25" r="4.17" fill="#3fbc73" fill-opacity="0.7" stroke="#3fbc73" stroke-opacity="0.7" stroke-width="1.39"/><circle cx="456.1" cy="91.72" r="4.17" fill="#40bd72" fill-opacity="0.7" stroke="#40bd72" stroke-opacity="0.7" stroke-width="1.39"/><circle cx="246.12" cy="456.74" r="4.17" fill="#42be71" fill-opacity="0.7" stroke="#42be71" stroke-opacity="0.7" stroke-width="1.39"/><circle cx="322.85" cy="485.59" r="4.17" fill="#42be71" fill-opacity="0.7" stroke="#42be71" stroke-opacity="0.7" stroke-width="1.39"/><circle cx="243.47" cy="452.13" r="4.17" fill="#44bf70" fill-opacity="0.7" stroke="#44bf70" stroke-opacity="0.7" stroke-width="1.39"/><circle cx="254.71" cy="463.29" r="4.17" fill="#46c06f" fill-opacity="0.7" stroke="#46c06f" stroke-opacity="0.7" stroke-width="1.39"/><circle cx="248.3" cy="470.23" r="4.17" fill="#48c16e" fill-opacity="0.7" stroke="#48c16e" stroke-opacity="0.7" stroke-width="1.39"/><circle cx="238.98" cy="492.18" r="4.17" fill="#4ac16d" fill-opacity="0.7" stroke="#4ac16d" stroke-opacity="0.7" stroke-width="1.39"/><circle cx="213.97" cy="482.65" r="4.17" fill="#4cc26c" fill-opacity="0.7" stroke="#4cc26c" stroke-opacity="0.7" stroke-width="1.39"/><circle cx="237.02" cy="441.58" r="4.17" fill="#4ec36b" fill-opacity="0.7" stroke="#4ec36b" stroke-opacity="0.7" stroke-width="1.39"/><circle cx="198.6" cy="450.29" r="4.17" fill="#4ec36b" fill-opacity="0.7" stroke="#4ec36b" stroke-opacity="0.7" stroke-width="1.39"/><circle cx="208.89" cy="497.38" r="4.17" fill="#50c46a" fill-opacity="0.7" stroke="#50c46a" stroke-opacity="0.7" stroke-width="1.39"/><circle cx="200.65" cy="464.09" r="4.17" fill="#52c569" fill-opacity="0.7" stroke="#52c569" stroke-opacity="0.7" stroke-width="1.39"/><circle cx="420.74" cy="138.86" r="4.17" fill="#54c568" fill-opacity="0.7" stroke="#54c568" stroke-opacity="0.7" stroke-width="1.39"/><circle cx="261.83" cy="520.55" r="4.17" fill="#56c667" fill-opacity="0.7" stroke="#56c667" stroke-opacity="0.7" stroke-width="1.39"/><circle cx="160.8" cy="451.32" r="4.17" fill="#58c765" fill-opacity="0.7" stroke="#58c765" stroke-opacity="0.7" stroke-width="1.39"/><circle cx="218.53" cy="489.45" r="4.17" fill="#5ac864" fill-opacity="0.7" stroke="#5ac864" stroke-opacity="0.7" stroke-width="1.39"/><circle cx="161.87" cy="450.84" r="4.17" fill="#5ac864" fill-opacity="0.7" stroke="#5ac864" stroke-opacity="0.7" stroke-width="1.39"/><circle cx="186.28" cy="492.82" r="4.17" fill="#5cc863" fill-opacity="0.7" stroke="#5cc863" stroke-opacity="0.7" stroke-width="1.39"/><circle cx="220.6" cy="525.53" r="4.17" fill="#5ec962" fill-opacity="0.7" stroke="#5ec962" stroke-opacity="0.7" stroke-width="1.39"/><circle cx="420.74" cy="138.86" r="4.17" fill="#60ca60" fill-opacity="0.7" stroke="#60ca60" stroke-opacity="0.7" stroke-width="1.39"/><circle cx="164.59" cy="467.01" r="4.17" fill="#63cb5f" fill-opacity="0.7" stroke="#63cb5f" stroke-opacity="0.7" stroke-width="1.39"/><circle cx="170.68" cy="460.09" r="4.17" fill="#65cb5e" fill-opacity="0.7" stroke="#65cb5e" stroke-opacity="0.7" stroke-width="1.39"/><circle cx="201.12" cy="496.32" r="4.17" fill="#67cc5c" fill-opacity="0.7" stroke="#67cc5c" stroke-opacity="0.7" stroke-width="1.39"/><circle cx="165.47" cy="447.39" r="4.17" fill="#67cc5c" fill-opacity="0.7" stroke="#67cc5c" stroke-opacity="0.7" stroke-width="1.39"/><circle cx="420.74" cy="138.86" r="4.17" fill="#69cd5b" fill-opacity="0.7" stroke="#69cd5b" stroke-opacity="0.7" stroke-width="1.39"/><circle cx="179.01" cy="468.43" r="4.17" fill="#6ccd5a" fill-opacity="0.7" stroke="#6ccd5a" stroke-opacity="0.7" stroke-width="1.39"/><circle cx="160.24" cy="503.74" r="4.17" fill="#6ece58" fill-opacity="0.7" stroke="#6ece58" stroke-opacity="0.7" stroke-width="1.39"/><circle cx="223.85" cy="485.41" r="4.17" fill="#70cf57" fill-opacity="0.7" stroke="#70cf57" stroke-opacity="0.7" stroke-width="1.39"/><circle cx="186" cy="462.61" r="4.17" fill="#73d056" fill-opacity="0.7" stroke="#73d056" stroke-opacity="0.7" stroke-width="1.39"/><circle cx="121.12" cy="490.24" r="4.17" fill="#75d054" fill-opacity="0.7" stroke="#75d054" stroke-opacity="0.7" stroke-width="1.39"/><circle cx="420.74" cy="138.86" r="4.17" fill="#75d054" fill-opacity="0.7" stroke="#75d054" stroke-opacity="0.7" stroke-width="1.39"/><circle cx="149" cy="429.55" r="4.17" fill="#77d153" fill-opacity="0.7" stroke="#77d153" stroke-opacity="0.7" stroke-width="1.39"/><circle cx="182.65" cy="478.19" r="4.17" fill="#7ad151" fill-opacity="0.7" stroke="#7ad151" stroke-opacity="0.7" stroke-width="1.39"/><circle cx="141.88" cy="432.61" r="4.17" fill="#7cd250" fill-opacity="0.7" stroke="#7cd250" stroke-opacity="0.7" stroke-width="1.39"/><circle cx="155.94" cy="493.13" r="4.17" fill="#7fd34e" fill-opacity="0.7" stroke="#7fd34e" stroke-opacity="0.7" stroke-width="1.39"/><circle cx="168.7" cy="439.66" r="4.17" fill="#81d34d" fill-opacity="0.7" stroke="#81d34d" stroke-opacity="0.7" stroke-width="1.39"/><circle cx="175.42" cy="409.64" r="4.17" fill="#84d44b" fill-opacity="0.7" stroke="#84d44b" stroke-opacity="0.7" stroke-width="1.39"/><circle cx="125" cy="531.18" r="4.17" fill="#84d44b" fill-opacity="0.7" stroke="#84d44b" stroke-opacity="0.7" stroke-width="1.39"/><circle cx="432.53" cy="107.43" r="4.17" fill="#86d549" fill-opacity="0.7" stroke="#86d549" stroke-opacity="0.7" stroke-width="1.39"/><circle cx="138.92" cy="432.34" r="4.17" fill="#89d548" fill-opacity="0.7" stroke="#89d548" stroke-opacity="0.7" stroke-width="1.39"/><circle cx="133.24" cy="455.26" r="4.17" fill="#8bd646" fill-opacity="0.7" stroke="#8bd646" stroke-opacity="0.7" stroke-width="1.39"/><circle cx="188.88" cy="435.57" r="4.17" fill="#8ed645" fill-opacity="0.7" stroke="#8ed645" stroke-opacity="0.7" stroke-width="1.39"/><circle cx="155.51" cy="464.53" r="4.17" fill="#90d743" fill-opacity="0.7" stroke="#90d743" stroke-opacity="0.7" stroke-width="1.39"/><circle cx="115.03" cy="441.1" r="4.17" fill="#93d741" fill-opacity="0.7" stroke="#93d741" stroke-opacity="0.7" stroke-width="1.39"/><circle cx="165.27" cy="446.94" r="4.17" fill="#93d741" fill-opacity="0.7" stroke="#93d741" stroke-opacity="0.7" stroke-width="1.39"/><circle cx="192.64" cy="403.55" r="4.17" fill="#95d840" fill-opacity="0.7" stroke="#95d840" stroke-opacity="0.7" stroke-width="1.39"/><circle cx="166.02" cy="430.41" r="4.17" fill="#98d83e" fill-opacity="0.7" stroke="#98d83e" stroke-opacity="0.7" stroke-width="1.39"/><circle cx="105.04" cy="425.93" r="4.17" fill="#9bd93c" fill-opacity="0.7" stroke="#9bd93c" stroke-opacity="0.7" stroke-width="1.39"/><circle cx="128.71" cy="447.59" r="4.17" fill="#9dd93b" fill-opacity="0.7" stroke="#9dd93b" stroke-opacity="0.7" stroke-width="1.39"/><circle cx="169.36" cy="448.06" r="4.17" fill="#a0da39" fill-opacity="0.7" stroke="#a0da39" stroke-opacity="0.7" stroke-width="1.39"/><circle cx="122.28" cy="444.39" r="4.17" fill="#a2da37" fill-opacity="0.7" stroke="#a2da37" stroke-opacity="0.7" stroke-width="1.39"/><circle cx="149" cy="416.45" r="4.17" fill="#a2da37" fill-opacity="0.7" stroke="#a2da37" stroke-opacity="0.7" stroke-width="1.39"/><circle cx="432.53" cy="107.43" r="4.17" fill="#a5db36" fill-opacity="0.7" stroke="#a5db36" stroke-opacity="0.7" stroke-width="1.39"/><circle cx="116.14" cy="415.8" r="4.17" fill="#a8db34" fill-opacity="0.7" stroke="#a8db34" stroke-opacity="0.7" stroke-width="1.39"/><circle cx="432.53" cy="107.43" r="4.17" fill="#aadc32" fill-opacity="0.7" stroke="#aadc32" stroke-opacity="0.7" stroke-width="1.39"/><circle cx="61.45" cy="393.57" r="4.17" fill="#addc30" fill-opacity="0.7" stroke="#addc30" stroke-opacity="0.7" stroke-width="1.39"/><circle cx="113.81" cy="429.22" r="4.17" fill="#b0dd2f" fill-opacity="0.7" stroke="#b0dd2f" stroke-opacity="0.7" stroke-width="1.39"/><circle cx="132.2" cy="379.25" r="4.17" fill="#b2dd2d" fill-opacity="0.7" stroke="#b2dd2d" stroke-opacity="0.7" stroke-width="1.39"/><circle cx="109.03" cy="427.85" r="4.17" fill="#b2dd2d" fill-opacity="0.7" stroke="#b2dd2d" stroke-opacity="0.7" stroke-width="1.39"/><circle cx="177.33" cy="477.13" r="4.17" fill="#b5de2b" fill-opacity="0.7" stroke="#b5de2b" stroke-opacity="0.7" stroke-width="1.39"/><circle cx="105.64" cy="442.82" r="4.17" fill="#b8de29" fill-opacity="0.7" stroke="#b8de29" stroke-opacity="0.7" stroke-width="1.39"/><circle cx="129.59" cy="468.01" r="4.17" fill="#bade28" fill-opacity="0.7" stroke="#bade28" stroke-opacity="0.7" stroke-width="1.39"/><circle cx="143.75" cy="418.36" r="4.17" fill="#bddf26" fill-opacity="0.7" stroke="#bddf26" stroke-opacity="0.7" stroke-width="1.39"/><circle cx="175.45" cy="404.86" r="4.17" fill="#c0df25" fill-opacity="0.7" stroke="#c0df25" stroke-opacity="0.7" stroke-width="1.39"/><circle cx="108.52" cy="350.91" r="4.17" fill="#c2df23" fill-opacity="0.7" stroke="#c2df23" stroke-opacity="0.7" stroke-width="1.39"/><circle cx="170.79" cy="391.51" r="4.17" fill="#c2df23" fill-opacity="0.7" stroke="#c2df23" stroke-opacity="0.7" stroke-width="1.39"/><circle cx="144.7" cy="406.89" r="4.17" fill="#c5e021" fill-opacity="0.7" stroke="#c5e021" stroke-opacity="0.7" stroke-width="1.39"/><circle cx="122.51" cy="372.2" r="4.17" fill="#c8e020" fill-opacity="0.7" stroke="#c8e020" stroke-opacity="0.7" stroke-width="1.39"/><circle cx="157.82" cy="466.06" r="4.17" fill="#cae11f" fill-opacity="0.7" stroke="#cae11f" stroke-opacity="0.7" stroke-width="1.39"/><circle cx="152.98" cy="387.51" r="4.17" fill="#cde11d" fill-opacity="0.7" stroke="#cde11d" stroke-opacity="0.7" stroke-width="1.39"/><circle cx="135.59" cy="369.08" r="4.17" fill="#d0e11c" fill-opacity="0.7" stroke="#d0e11c" stroke-opacity="0.7" stroke-width="1.39"/><circle cx="152.92" cy="438.22" r="4.17" fill="#d2e21b" fill-opacity="0.7" stroke="#d2e21b" stroke-opacity="0.7" stroke-width="1.39"/><circle cx="143.8" cy="354.31" r="4.17" fill="#d2e21b" fill-opacity="0.7" stroke="#d2e21b" stroke-opacity="0.7" stroke-width="1.39"/><circle cx="157.25" cy="378.16" r="4.17" fill="#d5e21a" fill-opacity="0.7" stroke="#d5e21a" stroke-opacity="0.7" stroke-width="1.39"/><circle cx="171.95" cy="400.46" r="4.17" fill="#d8e219" fill-opacity="0.7" stroke="#d8e219" stroke-opacity="0.7" stroke-width="1.39"/><circle cx="195.56" cy="366.2" r="4.17" fill="#dae319" fill-opacity="0.7" stroke="#dae319" stroke-opacity="0.7" stroke-width="1.39"/><circle cx="444.31" cy="76" r="4.17" fill="#dde318" fill-opacity="0.7" stroke="#dde318" stroke-opacity="0.7" stroke-width="1.39"/><circle cx="212.33" cy="377.9" r="4.17" fill="#dfe318" fill-opacity="0.7" stroke="#dfe318" stroke-opacity="0.7" stroke-width="1.39"/><circle cx="118.06" cy="374.68" r="4.17" fill="#e2e418" fill-opacity="0.7" stroke="#e2e418" stroke-opacity="0.7" stroke-width="1.39"/><circle cx="162.59" cy="395.85" r="4.17" fill="#e2e418" fill-opacity="0.7" stroke="#e2e418" stroke-opacity="0.7" stroke-width="1.39"/><circle cx="444.31" cy="76" r="4.17" fill="#e5e419" fill-opacity="0.7" stroke="#e5e419" stroke-opacity="0.7" stroke-width="1.39"/><circle cx="177.13" cy="353.41" r="4.17" fill="#e7e419" fill-opacity="0.7" stroke="#e7e419" stroke-opacity="0.7" stroke-width="1.39"/><circle cx="158.06" cy="405.56" r="4.17" fill="#eae51a" fill-opacity="0.7" stroke="#eae51a" stroke-opacity="0.7" stroke-width="1.39"/><circle cx="444.31" cy="76" r="4.17" fill="#ece51b" fill-opacity="0.7" stroke="#ece51b" stroke-opacity="0.7" stroke-width="1.39"/><circle cx="165.72" cy="392.2" r="4.17" fill="#efe51c" fill-opacity="0.7" stroke="#efe51c" stroke-opacity="0.7" stroke-width="1.39"/><circle cx="165.81" cy="361.53" r="4.17" fill="#f1e51d" fill-opacity="0.7" stroke="#f1e51d" stroke-opacity="0.7" stroke-width="1.39"/><circle cx="202.11" cy="365.56" r="4.17" fill="#f1e51d" fill-opacity="0.7" stroke="#f1e51d" stroke-opacity="0.7" stroke-width="1.39"/><circle cx="192.91" cy="342.98" r="4.17" fill="#f4e61e" fill-opacity="0.7" stroke="#f4e61e" stroke-opacity="0.7" stroke-width="1.39"/><circle cx="170.59" cy="391.25" r="4.17" fill="#f6e620" fill-opacity="0.7" stroke="#f6e620" stroke-opacity="0.7" stroke-width="1.39"/><circle cx="210.59" cy="383.41" r="4.17" fill="#f8e621" fill-opacity="0.7" stroke="#f8e621" stroke-opacity="0.7" stroke-width="1.39"/><circle cx="199.09" cy="405.48" r="4.17" fill="#fbe723" fill-opacity="0.7" stroke="#fbe723" stroke-opacity="0.7" stroke-width="1.39"/><circle cx="213.48" cy="388.56" r="4.17" fill="#fde725" fill-opacity="0.7" stroke="#fde725" stroke-opacity="0.7" stroke-width="1.39"/><circle cx="211.63" cy="362.7" r="4.17" fill="#fde725" fill-opacity="0.7" stroke="#fde725" stroke-opacity="0.7" stroke-width="1.39"/>
<path d="M414.56,132.56L428.44,146.44M414.56,146.44L428.44,132.56" stroke="#ff0000" stroke-opacity="0.8" stroke-width="2.78" fill="none"/><path d="M414.56,132.56L428.44,146.44M414.56,146.44L428.44,132.56" stroke="#ff0000" stroke-opacity="0.8" stroke-width="2.78" fill="none"/>
<path d="M426.56,100.56L440.44,114.44M426.56,114.44L440.44,100.56" stroke="#ff0000" stroke-opacity="0.8" stroke-width="2.78" fill="none"/><path d="M426.56,100.56L440.44,114.44M426.56,114.44L440.44,100.56" stroke="#ff0000" stroke-opacity="0.8" stroke-width="2.78" fill="none"/>
<path d="M449.56,85.56L463.44,99.44M449.56,99.44L463.44,85.56" stroke="#ff0000" stroke-opacity="0.8" stroke-width="2.78" fill="none"/><path d="M449.56,85.56L463.44,99.44M449.56,99.44L463.44,85.56" stroke="#ff0000" stroke-opacity="0.8" stroke-width="2.78" fill="none"/>
<path d="M437.56,69.56L451.44,83.44M437.56,83.44L451.44,69.56" stroke="#ff0000" stroke-opacity="0.8" stroke-width="2.78" fill="none"/><path d="M437.56,69.56L451.44,83.44M437.56,83.44L451.44,69.56" stroke="#ff0000" stroke-opacity="0.8" stroke-width="2.78" fill="none"/>
<line x1="79.5" y1="53.13" x2="79.5" y2="556.28" stroke="#b0b0b0" stroke-opacity="0.3" stroke-width="1.11"/><line x1="138.5" y1="53.13" x2="138.5" y2="556.28" stroke="#b0b0b0" stroke-opacity="0.3" stroke-width="1.11"/><line x1="197.5" y1="53.13" x2="197.5" y2="556.28" stroke="#b0b0b0" stroke-opacity="0.3" stroke-width="1.11"/><line x1="256.5" y1="53.13" x2="256.5" y2="556.28" stroke="#b0b0b0" stroke-opacity="0.3" stroke-width="1.11"/><line x1="315.5" y1="53.13" x2="315.5" y2="556.28" stroke="#b0b0b0" stroke-opacity="0.3" stroke-width="1.11"/><line x1="374.5" y1="53.13" x2="374.5" y2="556.28" stroke="#b0b0b0" stroke-opacity="0.3" stroke-width="1.11"/><line x1="433.5" y1="53.13" x2="433.5" y2="556.28" stroke="#b0b0b0" stroke-opacity="0.3" stroke-width="1.11"/><line x1="41.72" y1="500.5" x2="475.83" y2="500.5" stroke="#b0b0b0" stroke-opacity="0.3" stroke-width="1.11"/><line x1="41.72" y1="422.5" x2="475.83" y2="422.5" stroke="#b0b0b0" stroke-opacity="0.3" stroke-width="1.11"/><line x1="41.72" y1="343.5" x2="475.83" y2="343.5" stroke="#b0b0b0" stroke-opacity="0.3" stroke-width="1.11"/><line x1="41.72" y1="265.5" x2="475.83" y2="265.5" stroke="#b0b0b0" stroke-opacity="0.3" stroke-width="1.11"/><line x1="41.72" y1="186.5" x2="475.83" y2="186.5" stroke="#b0b0b0" stroke-opacity="0.3" stroke-width="1.11"/><line x1="41.72" y1="107.5" x2="475.83" y2="107.5" stroke="#b0b0b0" stroke-opacity="0.3" stroke-width="1.11"/>
<rect x="42.5" y="53.5" width="434.0" height="503.0" fill="none" stroke="#000" stroke-width="1.11" stroke-linecap="square"/><line x1="79.5" y1="556.5" x2="79.5" y2="561.36" stroke="#000" stroke-width="1.11"/><line x1="138.5" y1="556.5" x2="138.5" y2="561.36" stroke="#000" stroke-width="1.11"/><line x1="197.5" y1="556.5" x2="197.5" y2="561.36" stroke="#000" stroke-width="1.11"/><line x1="256.5" y1="556.5" x2="256.5" y2="561.36" stroke="#000" stroke-width="1.11"/><line x1="315.5" y1="556.5" x2="315.5" y2="561.36" stroke="#000" stroke-width="1.11"/><line x1="374.5" y1="556.5" x2="374.5" y2="561.36" stroke="#000" stroke-width="1.11"/><line x1="433.5" y1="556.5" x2="433.5" y2="561.36" stroke="#000" stroke-width="1.11"/><line x1="42.5" y1="500.5" x2="37.64" y2="500.5" stroke="#000" stroke-width="1.11"/><line x1="42.5" y1="422.5" x2="37.64" y2="422.5" stroke="#000" stroke-width="1.11"/><line x1="42.5" y1="343.5" x2="37.64" y2="343.5" stroke="#000" stroke-width="1.11"/><line x1="42.5" y1="265.5" x2="37.64" y2="265.5" stroke="#000" stroke-width="1.11"/><line x1="42.5" y1="186.5" x2="37.64" y2="186.5" stroke="#000" stroke-width="1.11"/><line x1="42.5" y1="107.5" x2="37.64" y2="107.5" stroke="#000" stroke-width="1.11"/>
<circle cx="848.01" cy="400.61" r="4.17" fill="#1f77b4" fill-opacity="0.7" stroke="#1f77b4" stroke-opacity="0.7" stroke-width="1.39"/><circle cx="832.4" cy="392.2" r="4.17" fill="#1f77b4" fill-opacity="0.7" stroke="#1f77b4" stroke-opacity="0.7" stroke-width="1.39"/><circle cx="1113.31" cy="138.86" r="4.17" fill="#1f77b4" fill-opacity="0.7" stroke="#1f77b4" stroke-opacity="0.7" stroke-width="1.39"/><circle cx="887.52" cy="355.75" r="4.17" fill="#1f77b4" fill-opacity="0.7" stroke="#1f77b4" stroke-opacity="0.7" stroke-width="1.39"/><circle cx="838.8" cy="375.88" r="4.17" fill="#1f77b4" fill-opacity="0.7" stroke="#1f77b4" stroke-opacity="0.7" stroke-width="1.39"/><circle cx="841.84" cy="371.9" r="4.17" fill="#1f77b4" fill-opacity="0.7" stroke="#1f77b4" stroke-opacity="0.7" stroke-width="1.39"/><circle cx="898.29" cy="335.89" r="4.17" fill="#1f77b4" fill-opacity="0.7" stroke="#1f77b4" stroke-opacity="0.7" stroke-width="1.39"/><circle cx="877.35" cy="395.17" r="4.17" fill="#1f77b4" fill-opacity="0.7" stroke="#1f77b4" stroke-opacity="0.7" stroke-width="1.39"/><circle cx="843.85" cy="360" r="4.17" fill="#1f77b4" fill-opacity="0.7" stroke="#1f77b4" stroke-opacity="0.7" stroke-width="1.39"/><circle cx="876.57" cy="384.24" r="4.17" fill="#1f77b4" fill-opacity="0.7" stroke="#1f77b4" stroke-opacity="0.7" stroke-width="1.39"/><circle cx="849.78" cy="385.5" r="4.17" fill="#1f77b4" fill-opacity="0.7" stroke="#1f77b4" stroke-opacity="0.7" stroke-width="1.39"/><circle cx="852.51" cy="344.97" r="4.17" fill="#1f77b4" fill-opacity="0.7" stroke="#1f77b4" stroke-opacity="0.7" stroke-width="1.39"/><circle cx="1128.05" cy="107.43" r="4.17" fill="#1f77b4" fill-opacity="0.7" stroke="#1f77b4" stroke-opacity="0.7" stroke-width="1.39"/><circle cx="815.27" cy="355.85" r="4.17" fill="#1f77b4" fill-opacity="0.7" stroke="#1f77b4" stroke-opacity="0.7" stroke-width="1.39"/><circle cx="1157.52" cy="91.72" r="4.17" fill="#1f77b4" fill-opacity="0.7" stroke="#1f77b4" stroke-opacity="0.7" stroke-width="1.39"/><circle cx="1142.78" cy="76" r="4.17" fill="#1f77b4" fill-opacity="0.7" stroke="#1f77b4" stroke-opacity="0.7" stroke-width="1.39"/><circle cx="849.42" cy="363.38" r="4.17" fill="#1f77b4" fill-opacity="0.7" stroke="#1f77b4" stroke-opacity="0.7" stroke-width="1.39"/><circle cx="890.91" cy="395.83" r="4.17" fill="#1f77b4" fill-opacity="0.7" stroke="#1f77b4" stroke-opacity="0.7" stroke-width="1.39"/><circle cx="857.18" cy="377.22" r="4.17" fill="#1f77b4" fill-opacity="0.7" stroke="#1f77b4" stroke-opacity="0.7" stroke-width="1.39"/><circle cx="844.53" cy="392.89" r="4.17" fill="#1f77b4" fill-opacity="0.7" stroke="#1f77b4" stroke-opacity="0.7" stroke-width="1.39"/><circle cx="931.45" cy="387.2" r="4.17" fill="#1f77b4" fill-opacity="0.7" stroke="#1f77b4" stroke-opacity="0.7" stroke-width="1.39"/><circle cx="883.62" cy="373.05" r="4.17" fill="#1f77b4" fill-opacity="0.7" stroke="#1f77b4" stroke-opacity="0.7" stroke-width="1.39"/><circle cx="894.18" cy="419.02" r="4.17" fill="#1f77b4" fill-opacity="0.7" stroke="#1f77b4" stroke-opacity="0.7" stroke-width="1.39"/><circle cx="852.02" cy="329.16" r="4.17" fill="#1f77b4" fill-opacity="0.7" stroke="#1f77b4" stroke-opacity="0.7" stroke-width="1.39"/><circle cx="879.67" cy="428.18" r="4.17" fill="#1f77b4" fill-opacity="0.7" stroke="#1f77b4" stroke-opacity="0.7" stroke-width="1.39"/><circle cx="900.57" cy="436.42" r="4.17" fill="#1f77b4" fill-opacity="0.7" stroke="#1f77b4" stroke-opacity="0.7" stroke-width="1.39"/><circle cx="864.87" cy="363.61" r="4.17" fill="#1f77b4" fill-opacity="0.7" stroke="#1f77b4" stroke-opacity="0.7" stroke-width="1.39"/><circle cx="1113.31" cy="138.86" r="4.17" fill="#1f77b4" fill-opacity="0.7" stroke="#1f77b4" stroke-opacity="0.7" stroke-width="1.39"/><circle cx="883.7" cy="383.98" r="4.17" fill="#1f77b4" fill-opacity="0.7" stroke="#1f77b4" stroke-opacity="0.7" stroke-width="1.39"/><circle cx="893.93" cy="385.69" r="4.17" fill="#1f77b4" fill-opacity="0.7" stroke="#1f77b4" stroke-opacity="0.7" stroke-width="1.39"/><circle cx="885.8" cy="407.7" r="4.17" fill="#1f77b4" fill-opacity="0.7" stroke="#1f77b4" stroke-opacity="0.7" stroke-width="1.39"/><circle cx="959" cy="437.41" r="4.17" fill="#1f77b4" fill-opacity="0.7" stroke="#1f77b4" stroke-opacity="0.7" stroke-width="1.39"/><circle cx="904.78" cy="408.75" r="4.17" fill="#1f77b4" fill-opacity="0.7" stroke="#1f77b4" stroke-opacity="0.7" stroke-width="1.39"/><circle cx="874.63" cy="434.36" r="4.17" fill="#1f77b4" fill-opacity="0.7" stroke="#1f77b4" stroke-opacity="0.7" stroke-width="1.39"/><circle cx="930.54" cy="384.38" r="4.17" fill="#1f77b4" fill-opacity="0.7" stroke="#1f77b4" stroke-opacity="0.7" stroke-width="1.39"/><circle cx="870.7" cy="421.62" r="4.17" fill="#1f77b4" fill-opacity="0.7" stroke="#1f77b4" stroke-opacity="0.7" stroke-width="1.39"/><circle cx="913.08" cy="444.91" r="4.17" fill="#1f77b4" fill-opacity="0.7" stroke="#1f77b4" stroke-opacity="0.7" stroke-width="1.39"/><circle cx="849.29" cy="431.05" r="4.17" fill="#1f77b4" fill-opacity="0.7" stroke="#1f77b4" stroke-opacity="0.7" stroke-width="1.39"/><circle cx="867.88" cy="409.95" r="4.17" fill="#1f77b4" fill-opacity="0.7" stroke="#1f77b4" stroke-opacity="0.7" stroke-width="1.39"/><circle cx="912.67" cy="442.63" r="4.17" fill="#1f77b4" fill-opacity="0.7" stroke="#1f77b4" stroke-opacity="0.7" stroke-width="1.39"/><circle cx="928.36" cy="452.72" r="4.17" fill="#1f77b4" fill-opacity="0.7" stroke="#1f77b4" stroke-opacity="0.7" stroke-width="1.39"/><circle cx="911.24" cy="421.19" r="4.17" fill="#1f77b4" fill-opacity="0.7" stroke="#1f77b4" stroke-opacity="0.7" stroke-width="1.39"/><circle cx="1128.05" cy="107.43" r="4.17" fill="#1f77b4" fill-opacity="0.7" stroke="#1f77b4" stroke-opacity="0.7" stroke-width="1.39"/><circle cx="896.12" cy="448.67" r="4.17" fill="#1f77b4" fill-opacity="0.7" stroke="#1f77b4" stroke-opacity="0.7" stroke-width="1.39"/><circle cx="860.64" cy="449.45" r="4.17" fill="#1f77b4" fill-opacity="0.7" stroke="#1f77b4" stroke-opacity="0.7" stroke-width="1.39"/><circle cx="882.08" cy="429.25" r="4.17" fill="#1f77b4" fill-opacity="0.7" stroke="#1f77b4" stroke-opacity="0.7" stroke-width="1.39"/><circle cx="888.68" cy="483.92" r="4.17" fill="#1f77b4" fill-opacity="0.7" stroke="#1f77b4" stroke-opacity="0.7" stroke-width="1.39"/><circle cx="1157.52" cy="91.72" r="4.17" fill="#1f77b4" fill-opacity="0.7" stroke="#1f77b4" stroke-opacity="0.7" stroke-width="1.39"/><circle cx="909.95" cy="464.63" r="4.17" fill="#1f77b4" fill-opacity="0.7" stroke="#1f77b4" stroke-opacity="0.7" stroke-width="1.39"/><circle cx="1142.78" cy="76" r="4.17" fill="#1f77b4" fill-opacity="0.7" stroke="#1f77b4" stroke-opacity="0.7" stroke-width="1.39"/><circle cx="906.47" cy="435.78" r="4.17" fill="#1f77b4" fill-opacity="0.7" stroke="#1f77b4" stroke-opacity="0.7" stroke-width="1.39"/><circle cx="1113.31" cy="138.86" r="4.17" fill="#1f77b4" fill-opacity="0.7" stroke="#1f77b4" stroke-opacity="0.7" stroke-width="1.39"/><circle cx="873.61" cy="421.92" r="4.17" fill="#1f77b4" fill-opacity="0.7" stroke="#1f77b4" stroke-opacity="0.7" stroke-width="1.39"/><circle cx="909.75" cy="455.5" r="4.17" fill="#1f77b4" fill-opacity="0.7" stroke="#1f77b4" stroke-opacity="0.7" stroke-width="1.39"/><circle cx="920.16" cy="452.61" r="4.17" fill="#1f77b4" fill-opacity="0.7" stroke="#1f77b4" stroke-opacity="0.7" stroke-width="1.39"/><circle cx="915.18" cy="485.01" r="4.17" fill="#1f77b4" fill-opacity="0.7" stroke="#1f77b4" stroke-opacity="0.7" stroke-width="1.39"/><circle cx="860.88" cy="455.52" r="4.17" fill="#1f77b4" fill-opacity="0.7" stroke="#1f77b4" stroke-opacity="0.7" stroke-width="1.39"/><circle cx="874.26" cy="465.38" r="4.17" fill="#1f77b4" fill-opacity="0.7" stroke="#1f77b4" stroke-opacity="0.7" stroke-width="1.39"/><circle cx="890.82" cy="447.48" r="4.17" fill="#1f77b4" fill-opacity="0.7" stroke="#1f77b4" stroke-opacity="0.7" stroke-width="1.39"/><circle cx="1128.05" cy="107.43" r="4.17" fill="#1f77b4" fill-opacity="0.7" stroke="#1f77b4" stroke-opacity="0.7" stroke-width="1.39"/><circle cx="1157.52" cy="91.72" r="4.17" fill="#1f77b4" fill-opacity="0.7" stroke="#1f77b4" stroke-opacity="0.7" stroke-width="1.39"/><circle cx="868.15" cy="413.01" r="4.17" fill="#1f77b4" fill-opacity="0.7" stroke="#1f77b4" stroke-opacity="0.7" stroke-width="1.39"/><circle cx="838.39" cy="465.64" r="4.17" fill="#1f77b4" fill-opacity="0.7" stroke="#1f77b4" stroke-opacity="0.7" stroke-width="1.39"/><circle cx="833.05" cy="450.58" r="4.17" fill="#1f77b4" fill-opacity="0.7" stroke="#1f77b4" stroke-opacity="0.7" stroke-width="1.39"/><circle cx="889.48" cy="442.41" r="4.17" fill="#1f77b4" fill-opacity="0.7" stroke="#1f77b4" stroke-opacity="0.7" stroke-width="1.39"/><circle cx="902.69" cy="477.54" r="4.17" fill="#1f77b4" fill-opacity="0.7" stroke="#1f77b4" stroke-opacity="0.7" stroke-width="1.39"/><circle cx="857.74" cy="458.64" r="4.17" fill="#1f77b4" fill-opacity="0.7" stroke="#1f77b4" stroke-opacity="0.7" stroke-width="1.39"/><circle cx="886.52" cy="465.96" r="4.17" fill="#1f77b4" fill-opacity="0.7" stroke="#1f77b4" stroke-opacity="0.7" stroke-width="1.39"/><circle cx="864.65" cy="463.88" r="4.17" fill="#1f77b4" fill-opacity="0.7" stroke="#1f77b4" stroke-opacity="0.7" stroke-width="1.39"/><circle cx="832" cy="491.76" r="4.17" fill="#1f77b4" fill-opacity="0.7" stroke="#1f77b4" stroke-opacity="0.7" stroke-width="1.39"/><circle cx="858.63" cy="467.13" r="4.17" fill="#1f77b4" fill-opacity="0.7" stroke="#1f77b4" stroke-opacity="0.7" stroke-width="1.39"/><circle cx="890.26" cy="452.6" r="4.17" fill="#1f77b4" fill-opacity="0.7" stroke="#1f77b4" stroke-opacity="0.7" stroke-width="1.39"/><circle cx="840.82" cy="422.91" r="4.17" fill="#1f77b4" fill-opacity="0.7" stroke="#1f77b4" stroke-opacity="0.7" stroke-width="1.39"/><circle cx="884.9" cy="438.56" r="4.17" fill="#1f77b4" fill-opacity="0.7" stroke="#1f77b4" stroke-opacity="0.7" stroke-width="1.39"/><circle cx="758.5" cy="401.14" r="4.17" fill="#1f77b4" fill-opacity="0.7" stroke="#1f77b4" stroke-opacity="0.7" stroke-width="1.39"/><circle cx="856.82" cy="492.95" r="4.17" fill="#1f77b4" fill-opacity="0.7" stroke="#1f77b4" stroke-opacity="0.7" stroke-width="1.39"/><circle cx="1142.78" cy="76" r="4.17" fill="#1f77b4" fill-opacity="0.7" stroke="#1f77b4" stroke-opacity="0.7" stroke-width="1.39"/><circle cx="817.61" cy="462.86" r="4.17" fill="#1f77b4" fill-opacity="0.7" stroke="#1f77b4" stroke-opacity="0.7" stroke-width="1.39"/><circle cx="1113.31" cy="138.86" r="4.17" fill="#1f77b4" fill-opacity="0.7" stroke="#1f77b4" stroke-opacity="0.7" stroke-width="1.39"/><circle cx="1128.05" cy="107.43" r="4.17" fill="#1f77b4" fill-opacity="0.7" stroke="#1f77b4" stroke-opacity="0.7" stroke-width="1.39"/><circle cx="810.78" cy="494.08" r="4.17" fill="#1f77b4" fill-opacity="0.7" stroke="#1f77b4" stroke-opacity="0.7" stroke-width="1.39"/><circle cx="824.77" cy="486.05" r="4.17" fill="#1f77b4" fill-opacity="0.7" stroke="#1f77b4" stroke-opacity="0.7" stroke-width="1.39"/><circle cx="854.82" cy="533.41" r="4.17" fill="#1f77b4" fill-opacity="0.7" stroke="#1f77b4" stroke-opacity="0.7" stroke-width="1.39"/><circle cx="793.07" cy="482.55" r="4.17" fill="#1f77b4" fill-opacity="0.7" stroke="#1f77b4" stroke-opacity="0.7" stroke-width="1.39"/><circle cx="781.63" cy="489.17" r="4.17" fill="#1f77b4" fill-opacity="0.7" stroke="#1f77b4" stroke-opacity="0.7" stroke-width="1.39"/><circle cx="787.83" cy="459.8" r="4.17" fill="#1f77b4" fill-opacity="0.7" stroke="#1f77b4" stroke-opacity="0.7" stroke-width="1.39"/><circle cx="826.8" cy="452.92" r="4.17" fill="#1f77b4" fill-opacity="0.7" stroke="#1f77b4" stroke-opacity="0.7" stroke-width="1.39"/><circle cx="806.79" cy="403.76" r="4.17" fill="#1f77b4" fill-opacity="0.7" stroke="#1f77b4" stroke-opacity="0.7" stroke-width="1.39"/><circle cx="1157.52" cy="91.72" r="4.17" fill="#1f77b4" fill-opacity="0.7" stroke="#1f77b4" stroke-opacity="0.7" stroke-width="1.39"/><circle cx="806.97" cy="478.76" r="4.17" fill="#1f77b4" fill-opacity="0.7" stroke="#1f77b4" stroke-opacity="0.7" stroke-width="1.39"/><circle cx="792.19" cy="487.71" r="4.17" fill="#1f77b4" fill-opacity="0.7" stroke="#1f77b4" stroke-opacity="0.7" stroke-width="1.39"/><circle cx="815.43" cy="442.8" r="4.17" fill="#1f77b4" fill-opacity="0.7" stroke="#1f77b4" stroke-opacity="0.7" stroke-width="1.39"/><circle cx="763.84" cy="498.47" r="4.17" fill="#1f77b4" fill-opacity="0.7" stroke="#1f77b4" stroke-opacity="0.7" stroke-width="1.39"/><circle cx="772.6" cy="398.08" r="4.17" fill="#1f77b4" fill-opacity="0.7" stroke="#1f77b4" stroke-opacity="0.7" stroke-width="1.39"/><circle cx="768.51" cy="417.16" r="4.17" fill="#1f77b4" fill-opacity="0.7" stroke="#1f77b4" stroke-opacity="0.7" stroke-width="1.39"/><circle cx="734.85" cy="467.51" r="4.17" fill="#1f77b4" fill-opacity="0.7" stroke="#1f77b4" stroke-opacity="0.7" stroke-width="1.39"/><circle cx="784.71" cy="505.09" r="4.17" fill="#1f77b4" fill-opacity="0.7" stroke="#1f77b4" stroke-opacity="0.7" stroke-width="1.39"/><circle cx="781.79" cy="407.13" r="4.17" fill="#1f77b4" fill-opacity="0.7" stroke="#1f77b4" stroke-opacity="0.7" stroke-width="1.39"/><circle cx="772.46" cy="451.66" r="4.17" fill="#1f77b4" fill-opacity="0.7" stroke="#1f77b4" stroke-opacity="0.7" stroke-width="1.39"/><circle cx="1142.78" cy="76" r="4.17" fill="#1f77b4" fill-opacity="0.7" stroke="#1f77b4" stroke-opacity="0.7" stroke-width="1.39"/><circle cx="727.36" cy="494.8" r="4.17" fill="#1f77b4" fill-opacity="0.7" stroke="#1f77b4" stroke-opacity="0.7" stroke-width="1.39"/><circle cx="1113.31" cy="138.86" r="4.17" fill="#1f77b4" fill-opacity="0.7" stroke="#1f77b4" stroke-opacity="0.7" stroke-width="1.39"/><circle cx="756.18" cy="440.99" r="4.17" fill="#1f77b4" fill-opacity="0.7" stroke="#1f77b4" stroke-opacity="0.7" stroke-width="1.39"/><circle cx="741.42" cy="437.86" r="4.17" fill="#1f77b4" fill-opacity="0.7" stroke="#1f77b4" stroke-opacity="0.7" stroke-width="1.39"/><circle cx="759.21" cy="451.62" r="4.17" fill="#1f77b4" fill-opacity="0.7" stroke="#1f77b4" stroke-opacity="0.7" stroke-width="1.39"/><circle cx="774.89" cy="416.03" r="4.17" fill="#1f77b4" fill-opacity="0.7" stroke="#1f77b4" stroke-opacity="0.7" stroke-width="1.39"/><circle cx="1128.05" cy="107.43" r="4.17" fill="#1f77b4" fill-opacity="0.7" stroke="#1f77b4" stroke-opacity="0.7" stroke-width="1.39"/><circle cx="766.56" cy="436.24" r="4.17" fill="#1f77b4" fill-opacity="0.7" stroke="#1f77b4" stroke-opacity="0.7" stroke-width="1.39"/><circle cx="768.4" cy="426.04" r="4.17" fill="#1f77b4" fill-opacity="0.7" stroke="#1f77b4" stroke-opacity="0.7" stroke-width="1.39"/><circle cx="758.15" cy="411.7" r="4.17" fill="#1f77b4" fill-opacity="0.7" stroke="#1f77b4" stroke-opacity="0.7" stroke-width="1.39"/><circle cx="703.46" cy="403.53" r="4.17" fill="#1f77b4" fill-opacity="0.7" stroke="#1f77b4" stroke-opacity="0.7" stroke-width="1.39"/><circle cx="759.01" cy="459.26" r="4.17" fill="#1f77b4" fill-opacity="0.7" stroke="#1f77b4" stroke-opacity="0.7" stroke-width="1.39"/><circle cx="761.48" cy="470.15" r="4.17" fill="#1f77b4" fill-opacity="0.7" stroke="#1f77b4" stroke-opacity="0.7" stroke-width="1.39"/><circle cx="832.34" cy="379.81" r="4.17" fill="#1f77b4" fill-opacity="0.7" stroke="#1f77b4" stroke-opacity="0.7" stroke-width="1.39"/><circle cx="754.27" cy="407.54" r="4.17" fill="#1f77b4" fill-opacity="0.7" stroke="#1f77b4" stroke-opacity="0.7" stroke-width="1.39"/><circle cx="769.13" cy="439.53" r="4.17" fill="#1f77b4" fill-opacity="0.7" stroke="#1f77b4" stroke-opacity="0.7" stroke-width="1.39"/><circle cx="759.66" cy="365.3" r="4.17" fill="#1f77b4" fill-opacity="0.7" stroke="#1f77b4" stroke-opacity="0.7" stroke-width="1.39"/><circle cx="726.81" cy="408.47" r="4.17" fill="#1f77b4" fill-opacity="0.7" stroke="#1f77b4" stroke-opacity="0.7" stroke-width="1.39"/><circle cx="795.62" cy="373.11" r="4.17" fill="#1f77b4" fill-opacity="0.7" stroke="#1f77b4" stroke-opacity="0.7" stroke-width="1.39"/><circle cx="784.92" cy="406.14" r="4.17" fill="#1f77b4" fill-opacity="0.7" stroke="#1f77b4" stroke-opacity="0.7" stroke-width="1.39"/><circle cx="1157.52" cy="91.72" r="4.17" fill="#1f77b4" fill-opacity="0.7" stroke="#1f77b4" stroke-opacity="0.7" stroke-width="1.39"/><circle cx="737.98" cy="349.35" r="4.17" fill="#1f77b4" fill-opacity="0.7" stroke="#1f77b4" stroke-opacity="0.7" stroke-width="1.39"/><circle cx="807.3" cy="410.51" r="4.17" fill="#1f77b4" fill-opacity="0.7" stroke="#1f77b4" stroke-opacity="0.7" stroke-width="1.39"/><circle cx="725.96" cy="370.36" r="4.17" fill="#1f77b4" fill-opacity="0.7" stroke="#1f77b4" stroke-opacity="0.7" stroke-width="1.39"/><circle cx="785.99" cy="378.85" r="4.17" fill="#1f77b4" fill-opacity="0.7" stroke="#1f77b4" stroke-opacity="0.7" stroke-width="1.39"/><circle cx="834.78" cy="354.4" r="4.17" fill="#1f77b4" fill-opacity="0.7" stroke="#1f77b4" stroke-opacity="0.7" stroke-width="1.39"/><circle cx="742.7" cy="426.06" r="4.17" fill="#1f77b4" fill-opacity="0.7" stroke="#1f77b4" stroke-opacity="0.7" stroke-width="1.39"/><circle cx="756.95" cy="372.55" r="4.17" fill="#1f77b4" fill-opacity="0.7" stroke="#1f77b4" stroke-opacity="0.7" stroke-width="1.39"/><circle cx="778.44" cy="359.26" r="4.17" fill="#1f77b4" fill-opacity="0.7" stroke="#1f77b4" stroke-opacity="0.7" stroke-width="1.39"/><circle cx="762.64" cy="446.26" r="4.17" fill="#1f77b4" fill-opacity="0.7" stroke="#1f77b4" stroke-opacity="0.7" stroke-width="1.39"/><circle cx="733.84" cy="426.7" r="4.17" fill="#1f77b4" fill-opacity="0.7" stroke="#1f77b4" stroke-opacity="0.7" stroke-width="1.39"/><circle cx="783.72" cy="452.18" r="4.17" fill="#1f77b4" fill-opacity="0.7" stroke="#1f77b4" stroke-opacity="0.7" stroke-width="1.39"/><circle cx="752.65" cy="395.21" r="4.17" fill="#1f77b4" fill-opacity="0.7" stroke="#1f77b4" stroke-opacity="0.7" stroke-width="1.39"/><circle cx="800.24" cy="362.89" r="4.17" fill="#1f77b4" fill-opacity="0.7" stroke="#1f77b4" stroke-opacity="0.7" stroke-width="1.39"/><circle cx="761.62" cy="336.99" r="4.17" fill="#1f77b4" fill-opacity="0.7" stroke="#1f77b4" stroke-opacity="0.7" stroke-width="1.39"/><circle cx="836.88" cy="380.71" r="4.17" fill="#1f77b4" fill-opacity="0.7" stroke="#1f77b4" stroke-opacity="0.7" stroke-width="1.39"/><circle cx="770.71" cy="330.76" r="4.17" fill="#1f77b4" fill-opacity="0.7" stroke="#1f77b4" stroke-opacity="0.7" stroke-width="1.39"/><circle cx="1142.78" cy="76" r="4.17" fill="#1f77b4" fill-opacity="0.7" stroke="#1f77b4" stroke-opacity="0.7" stroke-width="1.39"/><circle cx="823.11" cy="433.48" r="4.17" fill="#1f77b4" fill-opacity="0.7" stroke="#1f77b4" stroke-opacity="0.7" stroke-width="1.39"/><circle cx="765.64" cy="380.82" r="4.17" fill="#1f77b4" fill-opacity="0.7" stroke="#1f77b4" stroke-opacity="0.7" stroke-width="1.39"/><circle cx="811.44" cy="366.19" r="4.17" fill="#1f77b4" fill-opacity="0.7" stroke="#1f77b4" stroke-opacity="0.7" stroke-width="1.39"/><circle cx="846.13" cy="378.56" r="4.17" fill="#1f77b4" fill-opacity="0.7" stroke="#1f77b4" stroke-opacity="0.7" stroke-width="1.39"/><circle cx="763.17" cy="441.85" r="4.17" fill="#1f77b4" fill-opacity="0.7" stroke="#1f77b4" stroke-opacity="0.7" stroke-width="1.39"/><circle cx="818.94" cy="379.1" r="4.17" fill="#1f77b4" fill-opacity="0.7" stroke="#1f77b4" stroke-opacity="0.7" stroke-width="1.39"/><circle cx="824.16" cy="416.8" r="4.17" fill="#1f77b4" fill-opacity="0.7" stroke="#1f77b4" stroke-opacity="0.7" stroke-width="1.39"/><circle cx="842.57" cy="354.35" r="4.17" fill="#1f77b4" fill-opacity="0.7" stroke="#1f77b4" stroke-opacity="0.7" stroke-width="1.39"/><circle cx="1113.31" cy="138.86" r="4.17" fill="#1f77b4" fill-opacity="0.7" stroke="#1f77b4" stroke-opacity="0.7" stroke-width="1.39"/><circle cx="786.74" cy="404.35" r="4.17" fill="#1f77b4" fill-opacity="0.7" stroke="#1f77b4" stroke-opacity="0.7" stroke-width="1.39"/><circle cx="844.12" cy="390.8" r="4.17" fill="#1f77b4" fill-opacity="0.7" stroke="#1f77b4" stroke-opacity="0.7" stroke-width="1.39"/><circle cx="840.58" cy="407.85" r="4.17" fill="#1f77b4" fill-opacity="0.7" stroke="#1f77b4" stroke-opacity="0.7" stroke-width="1.39"/><circle cx="842.31" cy="376.53" r="4.17" fill="#1f77b4" fill-opacity="0.7" stroke="#1f77b4" stroke-opacity="0.7" stroke-width="1.39"/><circle cx="848.23" cy="344.63" r="4.17" fill="#1f77b4" fill-opacity="0.7" stroke="#1f77b4" stroke-opacity="0.7" stroke-width="1.39"/><circle cx="821.06" cy="405.79" r="4.17" fill="#1f77b4" fill-opacity="0.7" stroke="#1f77b4" stroke-opacity="0.7" stroke-width="1.39"/><circle cx="851.02" cy="359.22" r="4.17" fill="#1f77b4" fill-opacity="0.7" stroke="#1f77b4" stroke-opacity="0.7" stroke-width="1.39"/><circle cx="855.86" cy="392.06" r="4.17" fill="#1f77b4" fill-opacity="0.7" stroke="#1f77b4" stroke-opacity="0.7" stroke-width="1.39"/><circle cx="829.2" cy="400.72" r="4.17" fill="#1f77b4" fill-opacity="0.7" stroke="#1f77b4" stroke-opacity="0.7" stroke-width="1.39"/><circle cx="908.23" cy="379.67" r="4.17" fill="#1f77b4" fill-opacity="0.7" stroke="#1f77b4" stroke-opacity="0.7" stroke-width="1.39"/><circle cx="870.18" cy="409.41" r="4.17" fill="#1f77b4" fill-opacity="0.7" stroke="#1f77b4" stroke-opacity="0.7" stroke-width="1.39"/><circle cx="824.03" cy="394.93" r="4.17" fill="#1f77b4" fill-opacity="0.7" stroke="#1f77b4" stroke-opacity="0.7" stroke-width="1.39"/><circle cx="881.36" cy="415.91" r="4.17" fill="#1f77b4" fill-opacity="0.7" stroke="#1f77b4" stroke-opacity="0.7" stroke-width="1.39"/><circle cx="836.12" cy="317.33" r="4.17" fill="#1f77b4" fill-opacity="0.7" stroke="#1f77b4" stroke-opacity="0.7" stroke-width="1.39"/><circle cx="890.8" cy="378.85" r="4.17" fill="#1f77b4" fill-opacity="0.7" stroke="#1f77b4" stroke-opacity="0.7" stroke-width="1.39"/><circle cx="1128.05" cy="107.43" r="4.17" fill="#1f77b4" fill-opacity="0.7" stroke="#1f77b4" stroke-opacity="0.7" stroke-width="1.39"/><circle cx="848.78" cy="375.22" r="4.17" fill="#1f77b4" fill-opacity="0.7" stroke="#1f77b4" stroke-opacity="0.7" stroke-width="1.39"/><circle cx="903.93" cy="386.57" r="4.17" fill="#1f77b4" fill-opacity="0.7" stroke="#1f77b4" stroke-opacity="0.7" stroke-width="1.39"/><circle cx="890.21" cy="391.15" r="4.17" fill="#1f77b4" fill-opacity="0.7" stroke="#1f77b4" stroke-opacity="0.7" stroke-width="1.39"/><circle cx="904.69" cy="366.14" r="4.17" fill="#1f77b4" fill-opacity="0.7" stroke="#1f77b4" stroke-opacity="0.7" stroke-width="1.39"/><circle cx="938.7" cy="362.93" r="4.17" fill="#1f77b4" fill-opacity="0.7" stroke="#1f77b4" stroke-opacity="0.7" stroke-width="1.39"/><circle cx="877.82" cy="404.77" r="4.17" fill="#1f77b4" fill-opacity="0.7" stroke="#1f77b4" stroke-opacity="0.7" stroke-width="1.39"/><circle cx="865.01" cy="407.61" r="4.17" fill="#1f77b4" fill-opacity="0.7" stroke="#1f77b4" stroke-opacity="0.7" stroke-width="1.39"/><circle cx="863.07" cy="399.64" r="4.17" fill="#1f77b4" fill-opacity="0.7" stroke="#1f77b4" stroke-opacity="0.7" stroke-width="1.39"/><circle cx="867.21" cy="464.86" r="4.17" fill="#1f77b4" fill-opacity="0.7" stroke="#1f77b4" stroke-opacity="0.7" stroke-width="1.39"/><circle cx="890.84" cy="441.72" r="4.17" fill="#1f77b4" fill-opacity="0.7" stroke="#1f77b4" stroke-opacity="0.7" stroke-width="1.39"/><circle cx="904.92" cy="352.78" r="4.17" fill="#1f77b4" fill-opacity="0.7" stroke="#1f77b4" stroke-opacity="0.7" stroke-width="1.39"/><circle cx="904.67" cy="345.72" r="4.17" fill="#1f77b4" fill-opacity="0.7" stroke="#1f77b4" stroke-opacity="0.7" stroke-width="1.39"/><circle cx="922.43" cy="406.96" r="4.17" fill="#1f77b4" fill-opacity="0.7" stroke="#1f77b4" stroke-opacity="0.7" stroke-width="1.39"/><circle cx="899.87" cy="382.77" r="4.17" fill="#1f77b4" fill-opacity="0.7" stroke="#1f77b4" stroke-opacity="0.7" stroke-width="1.39"/><circle cx="943.62" cy="392.9" r="4.17" fill="#1f77b4" fill-opacity="0.7" stroke="#1f77b4" stroke-opacity="0.7" stroke-width="1.39"/><circle cx="894.18" cy="307.76" r="4.17" fill="#1f77b4" fill-opacity="0.7" stroke="#1f77b4" stroke-opacity="0.7" stroke-width="1.39"/><circle cx="983.2" cy="371.19" r="4.17" fill="#1f77b4" fill-opacity="0.7" stroke="#1f77b4" stroke-opacity="0.7" stroke-width="1.39"/><circle cx="1157.52" cy="91.72" r="4.17" fill="#1f77b4" fill-opacity="0.7" stroke="#1f77b4" stroke-opacity="0.7" stroke-width="1.39"/><circle cx="879.55" cy="440.2" r="4.17" fill="#1f77b4" fill-opacity="0.7" stroke="#1f77b4" stroke-opacity="0.7" stroke-width="1.39"/><circle cx="873.95" cy="462.59" r="4.17" fill="#1f77b4" fill-opacity="0.7" stroke="#1f77b4" stroke-opacity="0.7" stroke-width="1.39"/><circle cx="920.29" cy="407.66" r="4.17" fill="#1f77b4" fill-opacity="0.7" stroke="#1f77b4" stroke-opacity="0.7" stroke-width="1.39"/><circle cx="1142.78" cy="76" r="4.17" fill="#1f77b4" fill-opacity="0.7" stroke="#1f77b4" stroke-opacity="0.7" stroke-width="1.39"/><circle cx="927.86" cy="462.68" r="4.17" fill="#1f77b4" fill-opacity="0.7" stroke="#1f77b4" stroke-opacity="0.7" stroke-width="1.39"/><circle cx="920.94" cy="440.28" r="4.17" fill="#1f77b4" fill-opacity="0.7" stroke="#1f77b4" stroke-opacity="0.7" stroke-width="1.39"/><circle cx="1113.31" cy="138.86" r="4.17" fill="#1f77b4" fill-opacity="0.7" stroke="#1f77b4" stroke-opacity="0.7" stroke-width="1.39"/><circle cx="882.01" cy="370.9" r="4.17" fill="#1f77b4" fill-opacity="0.7" stroke="#1f77b4" stroke-opacity="0.7" stroke-width="1.39"/><circle cx="862.11" cy="398.19" r="4.17" fill="#1f77b4" fill-opacity="0.7" stroke="#1f77b4" stroke-opacity="0.7" stroke-width="1.39"/><circle cx="1128.05" cy="107.43" r="4.17" fill="#1f77b4" fill-opacity="0.7" stroke="#1f77b4" stroke-opacity="0.7" stroke-width="1.39"/><circle cx="931.18" cy="383.32" r="4.17" fill="#1f77b4" fill-opacity="0.7" stroke="#1f77b4" stroke-opacity="0.7" stroke-width="1.39"/><circle cx="1157.52" cy="91.72" r="4.17" fill="#1f77b4" fill-opacity="0.7" stroke="#1f77b4" stroke-opacity="0.7" stroke-width="1.39"/><circle cx="867.91" cy="460.76" r="4.17" fill="#1f77b4" fill-opacity="0.7" stroke="#1f77b4" stroke-opacity="0.7" stroke-width="1.39"/><circle cx="908.87" cy="387.73" r="4.17" fill="#1f77b4" fill-opacity="0.7" stroke="#1f77b4" stroke-opacity="0.7" stroke-width="1.39"/><circle cx="914.15" cy="420.54" r="4.17" fill="#1f77b4" fill-opacity="0.7" stroke="#1f77b4" stroke-opacity="0.7" stroke-width="1.39"/><circle cx="875.65" cy="471.93" r="4.17" fill="#1f77b4" fill-opacity="0.7" stroke="#1f77b4" stroke-opacity="0.7" stroke-width="1.39"/><circle cx="905" cy="447.13" r="4.17" fill="#1f77b4" fill-opacity="0.7" stroke="#1f77b4" stroke-opacity="0.7" stroke-width="1.39"/><circle cx="900.85" cy="470.46" r="4.17" fill="#1f77b4" fill-opacity="0.7" stroke="#1f77b4" stroke-opacity="0.7" stroke-width="1.39"/><circle cx="864" cy="488.15" r="4.17" fill="#1f77b4" fill-opacity="0.7" stroke="#1f77b4" stroke-opacity="0.7" stroke-width="1.39"/><circle cx="906.66" cy="417.29" r="4.17" fill="#1f77b4" fill-opacity="0.7" stroke="#1f77b4" stroke-opacity="0.7" stroke-width="1.39"/><circle cx="910.97" cy="388.06" r="4.17" fill="#1f77b4" fill-opacity="0.7" stroke="#1f77b4" stroke-opacity="0.7" stroke-width="1.39"/><circle cx="924.57" cy="493.63" r="4.17" fill="#1f77b4" fill-opacity="0.7" stroke="#1f77b4" stroke-opacity="0.7" stroke-width="1.39"/><circle cx="921.82" cy="433.56" r="4.17" fill="#1f77b4" fill-opacity="0.7" stroke="#1f77b4" stroke-opacity="0.7" stroke-width="1.39"/><circle cx="1157.52" cy="91.72" r="4.17" fill="#1f77b4" fill-opacity="0.7" stroke="#1f77b4" stroke-opacity="0.7" stroke-width="1.39"/><circle cx="1157.52" cy="91.72" r="4.17" fill="#1f77b4" fill-opacity="0.7" stroke="#1f77b4" stroke-opacity="0.7" stroke-width="1.39"/><circle cx="899.68" cy="474.25" r="4.17" fill="#1f77b4" fill-opacity="0.7" stroke="#1f77b4" stroke-opacity="0.7" stroke-width="1.39"/><circle cx="1157.52" cy="91.72" r="4.17" fill="#1f77b4" fill-opacity="0.7" stroke="#1f77b4" stroke-opacity="0.7" stroke-width="1.39"/><circle cx="895.04" cy="456.74" r="4.17" fill="#1f77b4" fill-opacity="0.7" stroke="#1f77b4" stroke-opacity="0.7" stroke-width="1.39"/><circle cx="990.95" cy="485.59" r="4.17" fill="#1f77b4" fill-opacity="0.7" stroke="#1f77b4" stroke-opacity="0.7" stroke-width="1.39"/><circle cx="891.73" cy="452.13" r="4.17" fill="#1f77b4" fill-opacity="0.7" stroke="#1f77b4" stroke-opacity="0.7" stroke-width="1.39"/><circle cx="905.77" cy="463.29" r="4.17" fill="#1f77b4" fill-opacity="0.7" stroke="#1f77b4" stroke-opacity="0.7" stroke-width="1.39"/><circle cx="897.76" cy="470.23" r="4.17" fill="#1f77b4" fill-opacity="0.7" stroke="#1f77b4" stroke-opacity="0.7" stroke-width="1.39"/><circle cx="886.12" cy="492.18" r="4.17" fill="#1f77b4" fill-opacity="0.7" stroke="#1f77b4" stroke-opacity="0.7" stroke-width="1.39"/><circle cx="854.85" cy="482.65" r="4.17" fill="#1f77b4" fill-opacity="0.7" stroke="#1f77b4" stroke-opacity="0.7" stroke-width="1.39"/><circle cx="883.66" cy="441.58" r="4.17" fill="#1f77b4" fill-opacity="0.7" stroke="#1f77b4" stroke-opacity="0.7" stroke-width="1.39"/><circle cx="835.64" cy="450.29" r="4.17" fill="#1f77b4" fill-opacity="0.7" stroke="#1f77b4" stroke-opacity="0.7" stroke-width="1.39"/><circle cx="848.5" cy="497.38" r="4.17" fill="#1f77b4" fill-opacity="0.7" stroke="#1f77b4" stroke-opacity="0.7" stroke-width="1.39"/><circle cx="838.2" cy="464.09" r="4.17" fill="#1f77b4" fill-opacity="0.7" stroke="#1f77b4" stroke-opacity="0.7" stroke-width="1.39"/><circle cx="1113.31" cy="138.86" r="4.17" fill="#1f77b4" fill-opacity="0.7" stroke="#1f77b4" stroke-opacity="0.7" stroke-width="1.39"/><circle cx="914.67" cy="520.55" r="4.17" fill="#1f77b4" fill-opacity="0.7" stroke="#1f77b4" stroke-opacity="0.7" stroke-width="1.39"/><circle cx="788.38" cy="451.32" r="4.17" fill="#1f77b4" fill-opacity="0.7" stroke="#1f77b4" stroke-opacity="0.7" stroke-width="1.39"/><circle cx="860.55" cy="489.45" r="4.17" fill="#1f77b4" fill-opacity="0.7" stroke="#1f77b4" stroke-opacity="0.7" stroke-width="1.39"/><circle cx="789.72" cy="450.84" r="4.17" fill="#1f77b4" fill-opacity="0.7" stroke="#1f77b4" stroke-opacity="0.7" stroke-width="1.39"/><circle cx="820.24" cy="492.82" r="4.17" fill="#1f77b4" fill-opacity="0.7" stroke="#1f77b4" stroke-opacity="0.7" stroke-width="1.39"/><circle cx="863.14" cy="525.53" r="4.17" fill="#1f77b4" fill-opacity="0.7" stroke="#1f77b4" stroke-opacity="0.7" stroke-width="1.39"/><circle cx="1113.31" cy="138.86" r="4.17" fill="#1f77b4" fill-opacity="0.7" stroke="#1f77b4" stroke-opacity="0.7" stroke-width="1.39"/><circle cx="793.12" cy="467.01" r="4.17" fill="#1f77b4" fill-opacity="0.7" stroke="#1f77b4" stroke-opacity="0.7" stroke-width="1.39"/><circle cx="800.74" cy="460.09" r="4.17" fill="#1f77b4" fill-opacity="0.7" stroke="#1f77b4" stroke-opacity="0.7" stroke-width="1.39"/><circle cx="838.79" cy="496.32" r="4.17" fill="#1f77b4" fill-opacity="0.7" stroke="#1f77b4" stroke-opacity="0.7" stroke-width="1.39"/><circle cx="794.23" cy="447.39" r="4.17" fill="#1f77b4" fill-opacity="0.7" stroke="#1f77b4" stroke-opacity="0.7" stroke-width="1.39"/><circle cx="1113.31" cy="138.86" r="4.17" fill="#1f77b4" fill-opacity="0.7" stroke="#1f77b4" stroke-opacity="0.7" stroke-width="1.39"/><circle cx="811.15" cy="468.43" r="4.17" fill="#1f77b4" fill-opacity="0.7" stroke="#1f77b4" stroke-opacity="0.7" stroke-width="1.39"/><circle cx="787.69" cy="503.74" r="4.17" fill="#1f77b4" fill-opacity="0.7" stroke="#1f77b4" stroke-opacity="0.7" stroke-width="1.39"/><circle cx="867.2" cy="485.41" r="4.17" fill="#1f77b4" fill-opacity="0.7" stroke="#1f77b4" stroke-opacity="0.7" stroke-width="1.39"/><circle cx="819.89" cy="462.61" r="4.17" fill="#1f77b4" fill-opacity="0.7" stroke="#1f77b4" stroke-opacity="0.7" stroke-width="1.39"/><circle cx="738.78" cy="490.24" r="4.17" fill="#1f77b4" fill-opacity="0.7" stroke="#1f77b4" stroke-opacity="0.7" stroke-width="1.39"/><circle cx="1113.31" cy="138.86" r="4.17" fill="#1f77b4" fill-opacity="0.7" stroke="#1f77b4" stroke-opacity="0.7" stroke-width="1.39"/><circle cx="773.63" cy="429.55" r="4.17" fill="#1f77b4" fill-opacity="0.7" stroke="#1f77b4" stroke-opacity="0.7" stroke-width="1.39"/><circle cx="815.7" cy="478.19" r="4.17" fill="#1f77b4" fill-opacity="0.7" stroke="#1f77b4" stroke-opacity="0.7" stroke-width="1.39"/><circle cx="764.74" cy="432.61" r="4.17" fill="#1f77b4" fill-opacity="0.7" stroke="#1f77b4" stroke-opacity="0.7" stroke-width="1.39"/><circle cx="782.31" cy="493.13" r="4.17" fill="#1f77b4" fill-opacity="0.7" stroke="#1f77b4" stroke-opacity="0.7" stroke-width="1.39"/><circle cx="798.26" cy="439.66" r="4.17" fill="#1f77b4" fill-opacity="0.7" stroke="#1f77b4" stroke-opacity="0.7" stroke-width="1.39"/><circle cx="806.66" cy="409.64" r="4.17" fill="#1f77b4" fill-opacity="0.7" stroke="#1f77b4" stroke-opacity="0.7" stroke-width="1.39"/><circle cx="743.64" cy="531.18" r="4.17" fill="#1f77b4" fill-opacity="0.7" stroke="#1f77b4" stroke-opacity="0.7" stroke-width="1.39"/><circle cx="1128.05" cy="107.43" r="4.17" fill="#1f77b4" fill-opacity="0.7" stroke="#1f77b4" stroke-opacity="0.7" stroke-width="1.39"/><circle cx="761.04" cy="432.34" r="4.17" fill="#1f77b4" fill-opacity="0.7" stroke="#1f77b4" stroke-opacity="0.7" stroke-width="1.39"/><circle cx="753.94" cy="455.26" r="4.17" fill="#1f77b4" fill-opacity="0.7" stroke="#1f77b4" stroke-opacity="0.7" stroke-width="1.39"/><circle cx="823.48" cy="435.57" r="4.17" fill="#1f77b4" fill-opacity="0.7" stroke="#1f77b4" stroke-opacity="0.7" stroke-width="1.39"/><circle cx="781.77" cy="464.53" r="4.17" fill="#1f77b4" fill-opacity="0.7" stroke="#1f77b4" stroke-opacity="0.7" stroke-width="1.39"/><circle cx="731.17" cy="441.1" r="4.17" fill="#1f77b4" fill-opacity="0.7" stroke="#1f77b4" stroke-opacity="0.7" stroke-width="1.39"/><circle cx="793.98" cy="446.94" r="4.17" fill="#1f77b4" fill-opacity="0.7" stroke="#1f77b4" stroke-opacity="0.7" stroke-width="1.39"/><circle cx="828.19" cy="403.55" r="4.17" fill="#1f77b4" fill-opacity="0.7" stroke="#1f77b4" stroke-opacity="0.7" stroke-width="1.39"/><circle cx="794.92" cy="430.41" r="4.17" fill="#1f77b4" fill-opacity="0.7" stroke="#1f77b4" stroke-opacity="0.7" stroke-width="1.39"/><circle cx="718.69" cy="425.93" r="4.17" fill="#1f77b4" fill-opacity="0.7" stroke="#1f77b4" stroke-opacity="0.7" stroke-width="1.39"/><circle cx="748.28" cy="447.59" r="4.17" fill="#1f77b4" fill-opacity="0.7" stroke="#1f77b4" stroke-opacity="0.7" stroke-width="1.39"/><circle cx="799.09" cy="448.06" r="4.17" fill="#1f77b4" fill-opacity="0.7" stroke="#1f77b4" stroke-opacity="0.7" stroke-width="1.39"/><circle cx="740.24" cy="444.39" r="4.17" fill="#1f77b4" fill-opacity="0.7" stroke="#1f77b4" stroke-opacity="0.7" stroke-width="1.39"/><circle cx="773.64" cy="416.45" r="4.17" fill="#1f77b4" fill-opacity="0.7" stroke="#1f77b4" stroke-opacity="0.7" stroke-width="1.39"/><circle cx="1128.05" cy="107.43" r="4.17" fill="#1f77b4" fill-opacity="0.7" stroke="#1f77b4" stroke-opacity="0.7" stroke-width="1.39"/><circle cx="732.57" cy="415.8" r="4.17" fill="#1f77b4" fill-opacity="0.7" stroke="#1f77b4" stroke-opacity="0.7" stroke-width="1.39"/><circle cx="1128.05" cy="107.43" r="4.17" fill="#1f77b4" fill-opacity="0.7" stroke="#1f77b4" stroke-opacity="0.7" stroke-width="1.39"/><circle cx="664.21" cy="393.57" r="4.17" fill="#1f77b4" fill-opacity="0.7" stroke="#1f77b4" stroke-opacity="0.7" stroke-width="1.39"/><circle cx="729.65" cy="429.22" r="4.17" fill="#1f77b4" fill-opacity="0.7" stroke="#1f77b4" stroke-opacity="0.7" stroke-width="1.39"/><circle cx="752.63" cy="379.25" r="4.17" fill="#1f77b4" fill-opacity="0.7" stroke="#1f77b4" stroke-opacity="0.7" stroke-width="1.39"/><circle cx="723.68" cy="427.85" r="4.17" fill="#1f77b4" fill-opacity="0.7" stroke="#1f77b4" stroke-opacity="0.7" stroke-width="1.39"/><circle cx="809.05" cy="477.13" r="4.17" fill="#1f77b4" fill-opacity="0.7" stroke="#1f77b4" stroke-opacity="0.7" stroke-width="1.39"/><circle cx="719.44" cy="442.82" r="4.17" fill="#1f77b4" fill-opacity="0.7" stroke="#1f77b4" stroke-opacity="0.7" stroke-width="1.39"/><circle cx="749.37" cy="468.01" r="4.17" fill="#1f77b4" fill-opacity="0.7" stroke="#1f77b4" stroke-opacity="0.7" stroke-width="1.39"/><circle cx="767.07" cy="418.36" r="4.17" fill="#1f77b4" fill-opacity="0.7" stroke="#1f77b4" stroke-opacity="0.7" stroke-width="1.39"/><circle cx="806.7" cy="404.86" r="4.17" fill="#1f77b4" fill-opacity="0.7" stroke="#1f77b4" stroke-opacity="0.7" stroke-width="1.39"/><circle cx="723.04" cy="350.91" r="4.17" fill="#1f77b4" fill-opacity="0.7" stroke="#1f77b4" stroke-opacity="0.7" stroke-width="1.39"/><circle cx="800.88" cy="391.51" r="4.17" fill="#1f77b4" fill-opacity="0.7" stroke="#1f77b4" stroke-opacity="0.7" stroke-width="1.39"/><circle cx="768.27" cy="406.89" r="4.17" fill="#1f77b4" fill-opacity="0.7" stroke="#1f77b4" stroke-opacity="0.7" stroke-width="1.39"/><circle cx="740.53" cy="372.2" r="4.17" fill="#1f77b4" fill-opacity="0.7" stroke="#1f77b4" stroke-opacity="0.7" stroke-width="1.39"/><circle cx="784.66" cy="466.06" r="4.17" fill="#1f77b4" fill-opacity="0.7" stroke="#1f77b4" stroke-opacity="0.7" stroke-width="1.39"/><circle cx="778.61" cy="387.51" r="4.17" fill="#1f77b4" fill-opacity="0.7" stroke="#1f77b4" stroke-opacity="0.7" stroke-width="1.39"/><circle cx="756.87" cy="369.08" r="4.17" fill="#1f77b4" fill-opacity="0.7" stroke="#1f77b4" stroke-opacity="0.7" stroke-width="1.39"/><circle cx="778.53" cy="438.22" r="4.17" fill="#1f77b4" fill-opacity="0.7" stroke="#1f77b4" stroke-opacity="0.7" stroke-width="1.39"/><circle cx="767.14" cy="354.31" r="4.17" fill="#1f77b4" fill-opacity="0.7" stroke="#1f77b4" stroke-opacity="0.7" stroke-width="1.39"/><circle cx="783.95" cy="378.16" r="4.17" fill="#1f77b4" fill-opacity="0.7" stroke="#1f77b4" stroke-opacity="0.7" stroke-width="1.39"/><circle cx="802.32" cy="400.46" r="4.17" fill="#1f77b4" fill-opacity="0.7" stroke="#1f77b4" stroke-opacity="0.7" stroke-width="1.39"/><circle cx="831.84" cy="366.2" r="4.17" fill="#1f77b4" fill-opacity="0.7" stroke="#1f77b4" stroke-opacity="0.7" stroke-width="1.39"/><circle cx="1142.78" cy="76" r="4.17" fill="#1f77b4" fill-opacity="0.7" stroke="#1f77b4" stroke-opacity="0.7" stroke-width="1.39"/><circle cx="852.81" cy="377.9" r="4.17" fill="#1f77b4" fill-opacity="0.7" stroke="#1f77b4" stroke-opacity="0.7" stroke-width="1.39"/><circle cx="734.97" cy="374.68" r="4.17" fill="#1f77b4" fill-opacity="0.7" stroke="#1f77b4" stroke-opacity="0.7" stroke-width="1.39"/><circle cx="790.63" cy="395.85" r="4.17" fill="#1f77b4" fill-opacity="0.7" stroke="#1f77b4" stroke-opacity="0.7" stroke-width="1.39"/><circle cx="1142.78" cy="76" r="4.17" fill="#1f77b4" fill-opacity="0.7" stroke="#1f77b4" stroke-opacity="0.7" stroke-width="1.39"/><circle cx="808.8" cy="353.41" r="4.17" fill="#1f77b4" fill-opacity="0.7" stroke="#1f77b4" stroke-opacity="0.7" stroke-width="1.39"/><circle cx="784.97" cy="405.56" r="4.17" fill="#1f77b4" fill-opacity="0.7" stroke="#1f77b4" stroke-opacity="0.7" stroke-width="1.39"/><circle cx="1142.78" cy="76" r="4.17" fill="#1f77b4" fill-opacity="0.7" stroke="#1f77b4" stroke-opacity="0.7" stroke-width="1.39"/><circle cx="794.54" cy="392.2" r="4.17" fill="#1f77b4" fill-opacity="0.7" stroke="#1f77b4" stroke-opacity="0.7" stroke-width="1.39"/><circle cx="794.65" cy="361.53" r="4.17" fill="#1f77b4" fill-opacity="0.7" stroke="#1f77b4" stroke-opacity="0.7" stroke-width="1.39"/><circle cx="840.03" cy="365.56" r="4.17" fill="#1f77b4" fill-opacity="0.7" stroke="#1f77b4" stroke-opacity="0.7" stroke-width="1.39"/><circle cx="828.53" cy="342.98" r="4.17" fill="#1f77b4" fill-opacity="0.7" stroke="#1f77b4" stroke-opacity="0.7" stroke-width="1.39"/><circle cx="800.63" cy="391.25" r="4.17" fill="#1f77b4" fill-opacity="0.7" stroke="#1f77b4" stroke-opacity="0.7" stroke-width="1.39"/><circle cx="850.62" cy="383.41" r="4.17" fill="#1f77b4" fill-opacity="0.7" stroke="#1f77b4" stroke-opacity="0.7" stroke-width="1.39"/><circle cx="836.25" cy="405.48" r="4.17" fill="#1f77b4" fill-opacity="0.7" stroke="#1f77b4" stroke-opacity="0.7" stroke-width="1.39"/><circle cx="854.23" cy="388.56" r="4.17" fill="#1f77b4" fill-opacity="0.7" stroke="#1f77b4" stroke-opacity="0.7" stroke-width="1.39"/><circle cx="851.93" cy="362.7" r="4.17" fill="#1f77b4" fill-opacity="0.7" stroke="#1f77b4" stroke-opacity="0.7" stroke-width="1.39"/>
<path d="M848.68,420.68L868.32,440.32M848.68,440.32L868.32,420.68" stroke="#ff0000" stroke-opacity="1.0" stroke-width="4.17" fill="none"/>
<path d="M1126.68,94.68L1146.32,114.32M1126.68,114.32L1146.32,94.68" stroke="#ff0000" stroke-opacity="1.0" stroke-width="4.17" fill="none"/>
<rect x="1108.5" y="134.5" width="10" height="10" fill="#000" fill-opacity="0.8" stroke="#000" stroke-opacity="0.8" stroke-width="1.39" stroke-linejoin="round"/>
<rect x="1108.5" y="134.5" width="10" height="10" fill="#000" fill-opacity="0.8" stroke="#000" stroke-opacity="0.8" stroke-width="1.39" stroke-linejoin="round"/>
<rect x="1108.5" y="134.5" width="10" height="10" fill="#000" fill-opacity="0.8" stroke="#000" stroke-opacity="0.8" stroke-width="1.39" stroke-linejoin="round"/>
<rect x="1108.5" y="134.5" width="10" height="10" fill="#000" fill-opacity="0.8" stroke="#000" stroke-opacity="0.8" stroke-width="1.39" stroke-linejoin="round"/>
<rect x="1108.5" y="134.5" width="10" height="10" fill="#000" fill-opacity="0.8" stroke="#000" stroke-opacity="0.8" stroke-width="1.39" stroke-linejoin="round"/>
<rect x="1108.5" y="134.5" width="10" height="10" fill="#000" fill-opacity="0.8" stroke="#000" stroke-opacity="0.8" stroke-width="1.39" stroke-linejoin="round"/>
<rect x="1108.5" y="134.5" width="10" height="10" fill="#000" fill-opacity="0.8" stroke="#000" stroke-opacity="0.8" stroke-width="1.39" stroke-linejoin="round"/>
<rect x="1108.5" y="134.5" width="10" height="10" fill="#000" fill-opacity="0.8" stroke="#000" stroke-opacity="0.8" stroke-width="1.39" stroke-linejoin="round"/>
<rect x="1108.5" y="134.5" width="10" height="10" fill="#000" fill-opacity="0.8" stroke="#000" stroke-opacity="0.8" stroke-width="1.39" stroke-linejoin="round"/>
<rect x="1108.5" y="134.5" width="10" height="10" fill="#000" fill-opacity="0.8" stroke="#000" stroke-opacity="0.8" stroke-width="1.39" stroke-linejoin="round"/>
<rect x="1123.5" y="102.5" width="10" height="10" fill="#000" fill-opacity="0.8" stroke="#000" stroke-opacity="0.8" stroke-width="1.39" stroke-linejoin="round"/>
<rect x="1123.5" y="102.5" width="10" height="10" fill="#000" fill-opacity="0.8" stroke="#000" stroke-opacity="0.8" stroke-width="1.39" stroke-linejoin="round"/>
<rect x="1123.5" y="102.5" width="10" height="10" fill="#000" fill-opacity="0.8" stroke="#000" stroke-opacity="0.8" stroke-width="1.39" stroke-linejoin="round"/>
<rect x="1123.5" y="102.5" width="10" height="10" fill="#000" fill-opacity="0.8" stroke="#000" stroke-opacity="0.8" stroke-width="1.39" stroke-linejoin="round"/>
<rect x="1123.5" y="102.5" width="10" height="10" fill="#000" fill-opacity="0.8" stroke="#000" stroke-opacity="0.8" stroke-width="1.39" stroke-linejoin="round"/>
<rect x="1123.5" y="102.5" width="10" height="10" fill="#000" fill-opacity="0.8" stroke="#000" stroke-opacity="0.8" stroke-width="1.39" stroke-linejoin="round"/>
<rect x="1123.5" y="102.5" width="10" height="10" fill="#000" fill-opacity="0.8" stroke="#000" stroke-opacity="0.8" stroke-width="1.39" stroke-linejoin="round"/>
<rect x="1123.5" y="102.5" width="10" height="10" fill="#000" fill-opacity="0.8" stroke="#000" stroke-opacity="0.8" stroke-width="1.39" stroke-linejoin="round"/>
<rect x="1123.5" y="102.5" width="10" height="10" fill="#000" fill-opacity="0.8" stroke="#000" stroke-opacity="0.8" stroke-width="1.39" stroke-linejoin="round"/>
<rect x="1123.5" y="102.5" width="10" height="10" fill="#000" fill-opacity="0.8" stroke="#000" stroke-opacity="0.8" stroke-width="1.39" stroke-linejoin="round"/>
<rect x="1153.5" y="87.5" width="10" height="10" fill="#000" fill-opacity="0.8" stroke="#000" stroke-opacity="0.8" stroke-width="1.39" stroke-linejoin="round"/>
<rect x="1153.5" y="87.5" width="10" height="10" fill="#000" fill-opacity="0.8" stroke="#000" stroke-opacity="0.8" stroke-width="1.39" stroke-linejoin="round"/>
<rect x="1153.5" y="87.5" width="10" height="10" fill="#000" fill-opacity="0.8" stroke="#000" stroke-opacity="0.8" stroke-width="1.39" stroke-linejoin="round"/>
<rect x="1153.5" y="87.5" width="10" height="10" fill="#000" fill-opacity="0.8" stroke="#000" stroke-opacity="0.8" stroke-width="1.39" stroke-linejoin="round"/>
<rect x="1153.5" y="87.5" width="10" height="10" fill="#000" fill-opacity="0.8" stroke="#000" stroke-opacity="0.8" stroke-width="1.39" stroke-linejoin="round"/>
<rect x="1153.5" y="87.5" width="10" height="10" fill="#000" fill-opacity="0.8" stroke="#000" stroke-opacity="0.8" stroke-width="1.39" stroke-linejoin="round"/>
<rect x="1153.5" y="87.5" width="10" height="10" fill="#000" fill-opacity="0.8" stroke="#000" stroke-opacity="0.8" stroke-width="1.39" stroke-linejoin="round"/>
<rect x="1153.5" y="87.5" width="10" height="10" fill="#000" fill-opacity="0.8" stroke="#000" stroke-opacity="0.8" stroke-width="1.39" stroke-linejoin="round"/>
<rect x="1153.5" y="87.5" width="10" height="10" fill="#000" fill-opacity="0.8" stroke="#000" stroke-opacity="0.8" stroke-width="1.39" stroke-linejoin="round"/>
<rect x="1153.5" y="87.5" width="10" height="10" fill="#000" fill-opacity="0.8" stroke="#000" stroke-opacity="0.8" stroke-width="1.39" stroke-linejoin="round"/>
<rect x="1138.5" y="71.5" width="10" height="10" fill="#000" fill-opacity="0.8" stroke="#000" stroke-opacity="0.8" stroke-width="1.39" stroke-linejoin="round"/>
<rect x="1138.5" y="71.5" width="10" height="10" fill="#000" fill-opacity="0.8" stroke="#000" stroke-opacity="0.8" stroke-width="1.39" stroke-linejoin="round"/>
<rect x="1138.5" y="71.5" width="10" height="10" fill="#000" fill-opacity="0.8" stroke="#000" stroke-opacity="0.8" stroke-width="1.39" stroke-linejoin="round"/>
<rect x="1138.5" y="71.5" width="10" height="10" fill="#000" fill-opacity="0.8" stroke="#000" stroke-opacity="0.8" stroke-width="1.39" stroke-linejoin="round"/>
<rect x="1138.5" y="71.5" width="10" height="10" fill="#000" fill-opacity="0.8" stroke="#000" stroke-opacity="0.8" stroke-width="1.39" stroke-linejoin="round"/>
<rect x="1138.5" y="71.5" width="10" height="10" fill="#000" fill-opacity="0.8" stroke="#000" stroke-opacity="0.8" stroke-width="1.39" stroke-linejoin="round"/>
<rect x="1138.5" y="71.5" width="10" height="10" fill="#000" fill-opacity="0.8" stroke="#000" stroke-opacity="0.8" stroke-width="1.39" stroke-linejoin="round"/>
<rect x="1138.5" y="71.5" width="10" height="10" fill="#000" fill-opacity="0.8" stroke="#000" stroke-opacity="0.8" stroke-width="1.39" stroke-linejoin="round"/>
<rect x="1138.5" y="71.5" width="10" height="10" fill="#000" fill-opacity="0.8" stroke="#000" stroke-opacity="0.8" stroke-width="1.39" stroke-linejoin="round"/>
<rect x="1138.5" y="71.5" width="10" height="10" fill="#000" fill-opacity="0.8" stroke="#000" stroke-opacity="0.8" stroke-width="1.39" stroke-linejoin="round"/>
<line x1="686.5" y1="53.13" x2="686.5" y2="556.28" stroke="#b0b0b0" stroke-opacity="0.3" stroke-width="1.11"/><line x1="760.5" y1="53.13" x2="760.5" y2="556.28" stroke="#b0b0b0" stroke-opacity="0.3" stroke-width="1.11"/><line x1="833.5" y1="53.13" x2="833.5" y2="556.28" stroke="#b0b0b0" stroke-opacity="0.3" stroke-width="1.11"/><line x1="907.5" y1="53.13" x2="907.5" y2="556.28" stroke="#b0b0b0" stroke-opacity="0.3" stroke-width="1.11"/><line x1="981.5" y1="53.13" x2="981.5" y2="556.28" stroke="#b0b0b0" stroke-opacity="0.3" stroke-width="1.11"/><line x1="1054.5" y1="53.13" x2="1054.5" y2="556.28" stroke="#b0b0b0" stroke-opacity="0.3" stroke-width="1.11"/><line x1="1128.5" y1="53.13" x2="1128.5" y2="556.28" stroke="#b0b0b0" stroke-opacity="0.3" stroke-width="1.11"/><line x1="639.54" y1="500.5" x2="1182.18" y2="500.5" stroke="#b0b0b0" stroke-opacity="0.3" stroke-width="1.11"/><line x1="639.54" y1="422.5" x2="1182.18" y2="422.5" stroke="#b0b0b0" stroke-opacity="0.3" stroke-width="1.11"/><line x1="639.54" y1="343.5" x2="1182.18" y2="343.5" stroke="#b0b0b0" stroke-opacity="0.3" stroke-width="1.11"/><line x1="639.54" y1="265.5" x2="1182.18" y2="265.5" stroke="#b0b0b0" stroke-opacity="0.3" stroke-width="1.11"/><line x1="639.54" y1="186.5" x2="1182.18" y2="186.5" stroke="#b0b0b0" stroke-opacity="0.3" stroke-width="1.11"/><line x1="639.54" y1="107.5" x2="1182.18" y2="107.5" stroke="#b0b0b0" stroke-opacity="0.3" stroke-width="1.11"/>
<rect x="640.5" y="53.5" width="542.0" height="503.0" fill="none" stroke="#000" stroke-width="1.11" stroke-linecap="square"/><line x1="686.5" y1="556.5" x2="686.5" y2="561.36" stroke="#000" stroke-width="1.11"/><line x1="760.5" y1="556.5" x2="760.5" y2="561.36" stroke="#000" stroke-width="1.11"/><line x1="833.5" y1="556.5" x2="833.5" y2="561.36" stroke="#000" stroke-width="1.11"/><line x1="907.5" y1="556.5" x2="907.5" y2="561.36" stroke="#000" stroke-width="1.11"/><line x1="981.5" y1="556.5" x2="981.5" y2="561.36" stroke="#000" stroke-width="1.11"/><line x1="1054.5" y1="556.5" x2="1054.5" y2="561.36" stroke="#000" stroke-width="1.11"/><line x1="1128.5" y1="556.5" x2="1128.5" y2="561.36" stroke="#000" stroke-width="1.11"/><line x1="640.5" y1="500.5" x2="635.64" y2="500.5" stroke="#000" stroke-width="1.11"/><line x1="640.5" y1="422.5" x2="635.64" y2="422.5" stroke="#000" stroke-width="1.11"/><line x1="640.5" y1="343.5" x2="635.64" y2="343.5" stroke="#000" stroke-width="1.11"/><line x1="640.5" y1="265.5" x2="635.64" y2="265.5" stroke="#000" stroke-width="1.11"/><line x1="640.5" y1="186.5" x2="635.64" y2="186.5" stroke="#000" stroke-width="1.11"/><line x1="640.5" y1="107.5" x2="635.64" y2="107.5" stroke="#000" stroke-width="1.11"/>
<defs><linearGradient id="vir" x1="0" y1="0" x2="0" y2="1"><stop offset="0.0000" stop-color="#fde725"/><stop offset="0.0312" stop-color="#ece51b"/><stop offset="0.0625" stop-color="#d8e219"/><stop offset="0.0938" stop-color="#c2df23"/><stop offset="0.1250" stop-color="#addc30"/><stop offset="0.1562" stop-color="#98d83e"/><stop offset="0.1875" stop-color="#84d44b"/><stop offset="0.2188" stop-color="#70cf57"/><stop offset="0.2500" stop-color="#5ec962"/><stop offset="0.2812" stop-color="#4ec36b"/><stop offset="0.3125" stop-color="#3fbc73"/><stop offset="0.3438" stop-color="#32b67a"/><stop offset="0.3750" stop-color="#28ae80"/><stop offset="0.4062" stop-color="#22a785"/><stop offset="0.4375" stop-color="#1fa088"/><stop offset="0.4688" stop-color="#1f988b"/><stop offset="0.5000" stop-color="#21918c"/><stop offset="0.5312" stop-color="#23898e"/><stop offset="0.5625" stop-color="#26828e"/><stop offset="0.5938" stop-color="#297a8e"/><stop offset="0.6250" stop-color="#2c728e"/><stop offset="0.6562" stop-color="#2f6b8e"/><stop offset="0.6875" stop-color="#33638d"/><stop offset="0.7188" stop-color="#375b8d"/><stop offset="0.7500" stop-color="#3b528b"/><stop offset="0.7812" stop-color="#3e4989"/><stop offset="0.8125" stop-color="#424086"/><stop offset="0.8438" stop-color="#453781"/><stop offset="0.8750" stop-color="#472d7b"/><stop offset="0.9062" stop-color="#482374"/><stop offset="0.9375" stop-color="#48186a"/><stop offset="0.9688" stop-color="#470d60"/><stop offset="1.0000" stop-color="#440154"/></linearGradient></defs>
<rect x="502.97" y="53.13" width="25.16" height="503.14" fill="url(#vir)" fill-opacity="0.7"/>
<rect x="503.5" y="53.5" width="25.0" height="503.0" fill="none" stroke="#000" stroke-width="1.11"/>
<line x1="528.5" y1="556.5" x2="533.36" y2="556.5" stroke="#000" stroke-width="1.11"/>
<line x1="528.5" y1="476.5" x2="533.36" y2="476.5" stroke="#000" stroke-width="1.11"/>
<line x1="528.5" y1="396.5" x2="533.36" y2="396.5" stroke="#000" stroke-width="1.11"/>
<line x1="528.5" y1="316.5" x2="533.36" y2="316.5" stroke="#000" stroke-width="1.11"/>
<line x1="528.5" y1="236.5" x2="533.36" y2="236.5" stroke="#000" stroke-width="1.11"/>
<line x1="528.5" y1="156.5" x2="533.36" y2="156.5" stroke="#000" stroke-width="1.11"/>
<line x1="528.5" y1="76.5" x2="533.36" y2="76.5" stroke="#000" stroke-width="1.11"/>
<rect x="49.5" y="60.5" width="101" height="25" rx="2.78" ry="2.78" fill="#ffffff" fill-opacity="0.8" stroke="#cccccc" stroke-opacity="0.8" stroke-width="1.39"/>
<path d="M61.56,66.56L75.44,80.44M61.56,80.44L75.44,66.56" stroke="#ff0000" stroke-opacity="0.8" stroke-width="2.78" fill="none"/>
<rect x="646.5" y="60.5" width="161" height="46" rx="2.78" ry="2.78" fill="#ffffff" fill-opacity="0.8" stroke="#cccccc" stroke-opacity="0.8" stroke-width="1.39"/>
<path d="M656.68,63.68L676.32,83.32M656.68,83.32L676.32,63.68" stroke="#ff0000" stroke-opacity="1.0" stroke-width="4.17" fill="none"/>
<rect x="661.59" y="89.59" width="9.82" height="9.82" fill="#000" fill-opacity="0.8" stroke="#000" stroke-opacity="0.8" stroke-width="1.39"/>
<text x="138.12" y="24" font-size="19.16" font-weight="bold" fill="#000000" stroke="#000000" stroke-width="0.2" textLength="79.13" lengthAdjust="spacingAndGlyphs">Evolving</text>
<text x="223.38" y="24" font-size="19.16" font-weight="bold" fill="#000000" stroke="#000000" stroke-width="0.2" textLength="67.55" lengthAdjust="spacingAndGlyphs">Normal</text>
<text x="296.96" y="24" font-size="19.16" font-weight="bold" fill="#000000" stroke="#000000" stroke-width="0.2" textLength="82.94" lengthAdjust="spacingAndGlyphs">Behavior</text>
<text x="191.29" y="44.8" font-size="19.19" font-weight="bold" fill="#000000" stroke="#000000" stroke-width="0.2" textLength="56.44" lengthAdjust="spacingAndGlyphs">(Color</text>
<text x="253.99" y="44.8" font-size="19.19" font-weight="bold" fill="#000000" stroke="#000000" stroke-width="0.2" textLength="12.78" lengthAdjust="spacingAndGlyphs">=</text>
<text x="273" y="44.8" font-size="19.19" font-weight="bold" fill="#000000" stroke="#000000" stroke-width="0.2" textLength="52.98" lengthAdjust="spacingAndGlyphs">Time)</text>
<text x="68.21" y="577" font-size="14.51" font-weight="normal" fill="#000000" textLength="21.03" lengthAdjust="spacingAndGlyphs">1.0</text>
<text x="127.28" y="577" font-size="14.51" font-weight="normal" fill="#000000" textLength="20.84" lengthAdjust="spacingAndGlyphs">1.5</text>
<text x="186.12" y="577" font-size="14.53" font-weight="normal" fill="#000000" textLength="21.55" lengthAdjust="spacingAndGlyphs">2.0</text>
<text x="245.06" y="577" font-size="14.51" font-weight="normal" fill="#000000" textLength="21.4" lengthAdjust="spacingAndGlyphs">2.5</text>
<text x="304.21" y="577" font-size="14.54" font-weight="normal" fill="#000000" textLength="20.85" lengthAdjust="spacingAndGlyphs">3.0</text>
<text x="363.14" y="577" font-size="14.51" font-weight="normal" fill="#000000" textLength="20.72" lengthAdjust="spacingAndGlyphs">3.5</text>
<text x="422.09" y="577" font-size="14.51" font-weight="normal" fill="#000000" textLength="20.84" lengthAdjust="spacingAndGlyphs">4.0</text>
<text x="10.89" y="505.76" font-size="14.51" font-weight="normal" fill="#000000" textLength="20.78" lengthAdjust="spacingAndGlyphs">1.5</text>
<text x="10.25" y="427.19" font-size="14.53" font-weight="normal" fill="#000000" textLength="21.5" lengthAdjust="spacingAndGlyphs">2.0</text>
<text x="10.25" y="348.63" font-size="14.51" font-weight="normal" fill="#000000" textLength="21.37" lengthAdjust="spacingAndGlyphs">2.5</text>
<text x="10.49" y="270.06" font-size="14.53" font-weight="normal" fill="#000000" textLength="20.66" lengthAdjust="spacingAndGlyphs">3.0</text>
<text x="10.49" y="191.5" font-size="15.43" font-weight="normal" fill="#000000" textLength="20.53" lengthAdjust="spacingAndGlyphs">3.5</text>
<text x="10.92" y="112.93" font-size="14.56" font-weight="normal" fill="#000000" textLength="20.84" lengthAdjust="spacingAndGlyphs">4.0</text>
<text x="93.13" y="76.63" font-size="14.59" font-weight="normal" fill="#000000" textLength="50.97" lengthAdjust="spacingAndGlyphs">Attacks</text>
<text x="841.26" y="24" font-size="18.72" font-weight="bold" fill="#000000" stroke="#000000" stroke-width="0.2" textLength="54.03" lengthAdjust="spacingAndGlyphs">Static</text>
<text x="901.45" y="24" font-size="18.72" font-weight="bold" fill="#000000" stroke="#000000" stroke-width="0.2" textLength="79.47" lengthAdjust="spacingAndGlyphs">K-means</text>
<text x="803.23" y="44.8" font-size="19.19" font-weight="bold" fill="#000000" stroke="#000000" stroke-width="0.2" textLength="76.52" lengthAdjust="spacingAndGlyphs">(Trained</text>
<text x="885.66" y="44.8" font-size="19.19" font-weight="bold" fill="#000000" stroke="#000000" stroke-width="0.2" textLength="23.19" lengthAdjust="spacingAndGlyphs">on</text>
<text x="914.86" y="44.8" font-size="19.19" font-weight="bold" fill="#000000" stroke="#000000" stroke-width="0.2" textLength="46.81" lengthAdjust="spacingAndGlyphs">Early</text>
<text x="967.83" y="44.8" font-size="19.19" font-weight="bold" fill="#000000" stroke="#000000" stroke-width="0.2" textLength="51.16" lengthAdjust="spacingAndGlyphs">Data)</text>
<text x="675.93" y="577" font-size="14.51" font-weight="normal" fill="#000000" textLength="20.88" lengthAdjust="spacingAndGlyphs">1.0</text>
<text x="749.14" y="577" font-size="14.51" font-weight="normal" fill="#000000" textLength="20.84" lengthAdjust="spacingAndGlyphs">1.5</text>
<text x="822.25" y="577" font-size="14.54" font-weight="normal" fill="#000000" textLength="21.67" lengthAdjust="spacingAndGlyphs">2.0</text>
<text x="896.23" y="577" font-size="14.51" font-weight="normal" fill="#000000" textLength="21.37" lengthAdjust="spacingAndGlyphs">2.5</text>
<text x="970.26" y="577" font-size="14.53" font-weight="normal" fill="#000000" textLength="20.73" lengthAdjust="spacingAndGlyphs">3.0</text>
<text x="1044.06" y="577" font-size="14.51" font-weight="normal" fill="#000000" textLength="20.74" lengthAdjust="spacingAndGlyphs">3.5</text>
<text x="1117.9" y="577" font-size="14.56" font-weight="normal" fill="#000000" textLength="20.84" lengthAdjust="spacingAndGlyphs">4.0</text>
<text x="608.25" y="505.76" font-size="14.51" font-weight="normal" fill="#000000" textLength="20.84" lengthAdjust="spacingAndGlyphs">1.5</text>
<text x="608.07" y="427.19" font-size="14.53" font-weight="normal" fill="#000000" textLength="21.7" lengthAdjust="spacingAndGlyphs">2.0</text>
<text x="608.07" y="348.63" font-size="14.51" font-weight="normal" fill="#000000" textLength="21.54" lengthAdjust="spacingAndGlyphs">2.5</text>
<text x="608.31" y="270.06" font-size="14.53" font-weight="normal" fill="#000000" textLength="20.85" lengthAdjust="spacingAndGlyphs">3.0</text>
<text x="608.31" y="191.5" font-size="15.43" font-weight="normal" fill="#000000" textLength="20.7" lengthAdjust="spacingAndGlyphs">3.5</text>
<text x="608.74" y="112.93" font-size="14.56" font-weight="normal" fill="#000000" textLength="21.03" lengthAdjust="spacingAndGlyphs">4.0</text>
<text x="690.75" y="76.63" font-size="14.61" font-weight="normal" fill="#000000" textLength="39.8" lengthAdjust="spacingAndGlyphs">Static</text>
<text x="735.14" y="76.63" font-size="14.61" font-weight="normal" fill="#000000" textLength="66.46" lengthAdjust="spacingAndGlyphs">Centroids</text>
<text x="690.72" y="97.58" font-size="14.49" font-weight="normal" fill="#000000" textLength="29.78" lengthAdjust="spacingAndGlyphs">True</text>
<text x="724.88" y="97.58" font-size="14.49" font-weight="normal" fill="#000000" textLength="51.65" lengthAdjust="spacingAndGlyphs">Attacks</text>
<text x="1292.14" y="204.08" font-size="20.32" font-weight="bold" fill="#000000" stroke="#000000" stroke-width="0.2" textLength="102.55" lengthAdjust="spacingAndGlyphs">Problems</text>
<text x="1401.96" y="204.08" font-size="20.32" font-weight="bold" fill="#000000" stroke="#000000" stroke-width="0.2" textLength="47.34" lengthAdjust="spacingAndGlyphs">with</text>
<text x="1456.55" y="204.08" font-size="20.32" font-weight="bold" fill="#000000" stroke="#000000" stroke-width="0.2" textLength="63.18" lengthAdjust="spacingAndGlyphs">Static</text>
<text x="1527.14" y="204.08" font-size="20.32" font-weight="bold" fill="#000000" stroke="#000000" stroke-width="0.2" textLength="85.78" lengthAdjust="spacingAndGlyphs">Models:</text>
<text x="1292.72" y="254.39" font-size="19.05" font-weight="normal" fill="#000000" textLength="8.31" lengthAdjust="spacingAndGlyphs">•</text>
<text x="1307.02" y="254.39" font-size="19.05" font-weight="normal" fill="#000000" textLength="60.12" lengthAdjust="spacingAndGlyphs">Normal</text>
<text x="1372.61" y="254.39" font-size="19.05" font-weight="normal" fill="#000000" textLength="72.94" lengthAdjust="spacingAndGlyphs">behavior</text>
<text x="1450.69" y="254.39" font-size="19.05" font-weight="normal" fill="#000000" textLength="42.74" lengthAdjust="spacingAndGlyphs">drifts</text>
<text x="1498.76" y="254.39" font-size="19.05" font-weight="normal" fill="#000000" textLength="37.27" lengthAdjust="spacingAndGlyphs">over</text>
<text x="1541.29" y="254.39" font-size="19.05" font-weight="normal" fill="#000000" textLength="37.42" lengthAdjust="spacingAndGlyphs">time</text>
<text x="1292.72" y="304.71" font-size="19.2" font-weight="normal" fill="#000000" textLength="8.31" lengthAdjust="spacingAndGlyphs">•</text>
<text x="1307" y="304.71" font-size="19.2" font-weight="normal" fill="#000000" textLength="47.11" lengthAdjust="spacingAndGlyphs">Static</text>
<text x="1359.71" y="304.71" font-size="19.2" font-weight="normal" fill="#000000" textLength="76.66" lengthAdjust="spacingAndGlyphs">centroids</text>
<text x="1441.88" y="304.71" font-size="19.2" font-weight="normal" fill="#000000" textLength="66.41" lengthAdjust="spacingAndGlyphs">become</text>
<text x="1513.49" y="304.71" font-size="19.2" font-weight="normal" fill="#000000" textLength="74.89" lengthAdjust="spacingAndGlyphs">outdated</text>
<text x="1292.72" y="355.02" font-size="19.24" font-weight="normal" fill="#000000" textLength="8.31" lengthAdjust="spacingAndGlyphs">•</text>
<text x="1307.1" y="355.02" font-size="19.24" font-weight="normal" fill="#000000" textLength="41.57" lengthAdjust="spacingAndGlyphs">False</text>
<text x="1354.12" y="355.02" font-size="19.24" font-weight="normal" fill="#000000" textLength="73.73" lengthAdjust="spacingAndGlyphs">positives</text>
<text x="1433.44" y="355.02" font-size="19.24" font-weight="normal" fill="#000000" textLength="69.92" lengthAdjust="spacingAndGlyphs">increase</text>
<text x="1292.72" y="405.33" font-size="18.9" font-weight="normal" fill="#000000" textLength="8.31" lengthAdjust="spacingAndGlyphs">•</text>
<text x="1307.05" y="405.33" font-size="18.9" font-weight="normal" fill="#000000" textLength="35.9" lengthAdjust="spacingAndGlyphs">New</text>
<text x="1348.79" y="405.33" font-size="18.9" font-weight="normal" fill="#000000" textLength="57.86" lengthAdjust="spacingAndGlyphs">normal</text>
<text x="1412.31" y="405.33" font-size="18.9" font-weight="normal" fill="#000000" textLength="69.38" lengthAdjust="spacingAndGlyphs">patterns</text>
<text x="1487.22" y="405.33" font-size="18.9" font-weight="normal" fill="#000000" textLength="39.49" lengthAdjust="spacingAndGlyphs">seen</text>
<text x="1532.32" y="405.33" font-size="18.9" font-weight="normal" fill="#000000" textLength="18.54" lengthAdjust="spacingAndGlyphs">as</text>
<text x="1556.35" y="405.33" font-size="18.9" font-weight="normal" fill="#000000" textLength="60.64" lengthAdjust="spacingAndGlyphs">attacks</text>
<text x="1292.27" y="480.81" font-size="20.32" font-weight="bold" fill="#0000ff" stroke="#0000ff" stroke-width="0.2" textLength="109.5" lengthAdjust="spacingAndGlyphs">Solutions:</text>
<text x="1292.72" y="531.12" font-size="19.11" font-weight="normal" fill="#0000ff" textLength="8.31" lengthAdjust="spacingAndGlyphs">•</text>
<text x="1307.04" y="531.12" font-size="19.11" font-weight="normal" fill="#0000ff" textLength="43.66" lengthAdjust="spacingAndGlyphs">Deep</text>
<text x="1356.23" y="531.12" font-size="19.11" font-weight="normal" fill="#0000ff" textLength="71.82" lengthAdjust="spacingAndGlyphs">Learning</text>
<text x="1433.61" y="531.12" font-size="19.11" font-weight="normal" fill="#0000ff" textLength="126.5" lengthAdjust="spacingAndGlyphs">(Autoencoders,</text>
<text x="1565.29" y="531.12" font-size="19.11" font-weight="normal" fill="#0000ff" textLength="47.24" lengthAdjust="spacingAndGlyphs">VAEs)</text>
<text x="538.73" y="561.78" font-size="14.54" font-weight="normal" fill="#000000" textLength="8.46" lengthAdjust="spacingAndGlyphs">0</text>
<text x="538.12" y="481.7" font-size="14.53" font-weight="normal" fill="#000000" textLength="8.31" lengthAdjust="spacingAndGlyphs">2</text>
<text x="538.78" y="401.62" font-size="14.51" font-weight="normal" fill="#000000" textLength="8.4" lengthAdjust="spacingAndGlyphs">4</text>
<text x="538.09" y="321.54" font-size="14.54" font-weight="normal" fill="#000000" textLength="8.66" lengthAdjust="spacingAndGlyphs">6</text>
<text x="538.18" y="241.47" font-size="14.54" font-weight="normal" fill="#000000" textLength="8.56" lengthAdjust="spacingAndGlyphs">8</text>
<text x="538.27" y="161.39" font-size="14.51" font-weight="normal" fill="#000000" textLength="16.48" lengthAdjust="spacingAndGlyphs">10</text>
<text x="538.27" y="81.31" font-size="14.51" font-weight="normal" fill="#000000" textLength="16.31" lengthAdjust="spacingAndGlyphs">12</text>
<text transform="translate(572.03,322.61) rotate(-90)" font-size="15.28" font-weight="normal" fill="#000000" textLength="34.06" lengthAdjust="spacingAndGlyphs">Time</text>
</svg>
</body></html>
